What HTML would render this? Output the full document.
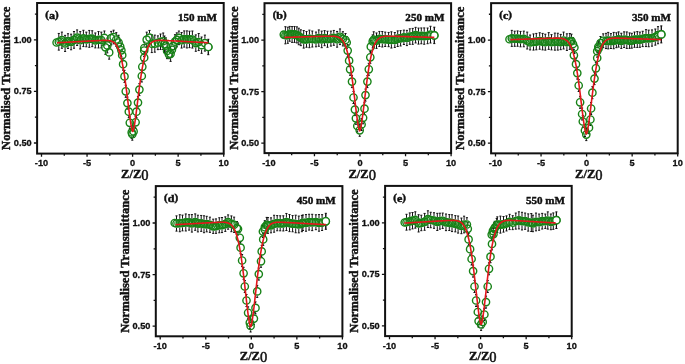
<!DOCTYPE html><html><head><meta charset="utf-8"><style>html,body{margin:0;padding:0;background:#fff;width:685px;height:364px;overflow:hidden}svg{display:block;will-change:transform}</style></head><body><svg width="685" height="364" viewBox="0 0 685 364">
<rect width="685" height="364" fill="#fff"/>
<g><path d="M58.8 33.45V37.44M58.8 46.14V50.12M57.75 33.45h2.1M57.75 50.12h2.1M61.9 32.12V35.84M61.9 44.54V48.26M60.85 32.12h2.1M60.85 48.26h2.1M65.1 35.36V39.06M65.1 47.76V51.46M64.05 35.36h2.1M64.05 51.46h2.1M68 33.72V36.75M68 45.45V48.49M66.95 33.72h2.1M66.95 48.49h2.1M71.1 34.18V37.63M71.1 46.33V49.78M70.05 34.18h2.1M70.05 49.78h2.1M74 31.51V35.52M74 44.22V48.24M72.95 31.51h2.1M72.95 48.24h2.1M77.1 29.91V33.34M77.1 42.04V45.46M76.05 29.91h2.1M76.05 45.46h2.1M80.2 31.58V35.92M80.2 44.62V48.96M79.15 31.58h2.1M79.15 48.96h2.1M83.4 30.29V34.08M83.4 42.78V46.58M82.35 30.29h2.1M82.35 46.58h2.1M86.3 32.15V35.13M86.3 43.83V46.81M85.25 32.15h2.1M85.25 46.81h2.1M89.3 30.44V34.53M89.3 43.23V47.32M88.25 30.44h2.1M88.25 47.32h2.1M92.2 30.76V34.36M92.2 43.06V46.67M91.15 30.76h2.1M91.15 46.67h2.1M95.3 32.98V36.09M95.3 44.79V47.9M94.25 32.98h2.1M94.25 47.9h2.1M98.5 31.54V35.39M98.5 44.09V47.94M97.45 31.54h2.1M97.45 47.94h2.1M101.3 32.14V35.65M101.3 44.35V47.87M100.25 32.14h2.1M100.25 47.87h2.1M104.4 30.98V33.62M104.4 42.32V44.96M103.35 30.98h2.1M103.35 44.96h2.1M105.4 40.4V43.02M105.4 51.72V54.34M104.35 40.4h2.1M104.35 54.34h2.1M107.3 38.05V41.11M107.3 49.81V52.86M106.25 38.05h2.1M106.25 52.86h2.1M109.2 45.61V48.03M109.2 56.73V59.16M108.15 45.61h2.1M108.15 59.16h2.1M111.2 31.4V33.78M111.2 42.48V44.86M110.15 31.4h2.1M110.15 44.86h2.1M113.6 30.19V32.67M113.6 41.37V43.84M112.55 30.19h2.1M112.55 43.84h2.1M116.3 32.64V35.13M116.3 43.83V46.33M115.25 32.64h2.1M115.25 46.33h2.1M118.6 35.26V38.18M118.6 46.88V49.79M117.55 35.26h2.1M117.55 49.79h2.1M120.2 40.1V42.25M120.2 50.95V53.1M119.15 40.1h2.1M119.15 53.1h2.1M121.4 43.8V45.95M121.4 54.65V56.8M120.35 43.8h2.1M120.35 56.8h2.1M122.2 49.2V50.85M122.2 59.55V61.2M121.15 49.2h2.1M121.15 61.2h2.1M123.1 58.2V59.85M123.1 68.55V70.2M122.05 58.2h2.1M122.05 70.2h2.1M124.5 70.4V72.05M124.5 80.75V82.4M123.45 70.4h2.1M123.45 82.4h2.1M125.75 85.3V86.95M125.75 95.65V97.3M124.7 85.3h2.1M124.7 97.3h2.1M127.4 97.1V98.75M127.4 107.45V109.1M126.35 97.1h2.1M126.35 109.1h2.1M128.8 105.7V107.35M128.8 116.05V117.7M127.75 105.7h2.1M127.75 117.7h2.1M129.8 116.8V118.45M129.8 127.15V128.8M128.75 116.8h2.1M128.75 128.8h2.1M131.7 126.4V128.05M131.7 136.75V138.4M130.65 126.4h2.1M130.65 138.4h2.1M132.3 128.2V129.85M132.3 138.55V140.2M131.25 128.2h2.1M131.25 140.2h2.1M133.6 125.4V127.05M133.6 135.75V137.4M132.55 125.4h2.1M132.55 137.4h2.1M135.6 116.3V117.95M135.6 126.65V128.3M134.55 116.3h2.1M134.55 128.3h2.1M136.5 105.7V107.35M136.5 116.05V117.7M135.45 105.7h2.1M135.45 117.7h2.1M138 96.6V98.25M138 106.95V108.6M136.95 96.6h2.1M136.95 108.6h2.1M139.4 83.6V85.25M139.4 93.95V95.6M138.35 83.6h2.1M138.35 95.6h2.1M141.8 70V71.65M141.8 80.35V82M140.75 70h2.1M140.75 82h2.1M142.3 60.8V62.45M142.3 71.15V72.8M141.25 60.8h2.1M141.25 72.8h2.1M144.2 51.7V53.35M144.2 62.05V63.7M143.15 51.7h2.1M143.15 63.7h2.1M144.2 44.5V46.15M144.2 54.85V56.5M143.15 44.5h2.1M143.15 56.5h2.1M144.3 42V43.65M144.3 52.35V54M143.25 42h2.1M143.25 54h2.1M146.7 32.16V35.29M146.7 43.99V47.13M145.65 32.16h2.1M145.65 47.13h2.1M149.5 30.44V33.37M149.5 42.07V45.01M148.45 30.44h2.1M148.45 45.01h2.1M151.8 34.75V39.31M151.8 48.01V52.57M150.75 34.75h2.1M150.75 52.57h2.1M154.8 35.11V39.29M154.8 47.99V52.17M153.75 35.11h2.1M153.75 52.17h2.1M157.9 35.85V38.4M157.9 47.1V49.65M156.85 35.85h2.1M156.85 49.65h2.1M160.5 34.01V37.42M160.5 46.12V49.52M159.45 34.01h2.1M159.45 49.52h2.1M163.2 33.01V36.89M163.2 45.59V49.48M162.15 33.01h2.1M162.15 49.48h2.1M164.5 36V39.87M164.5 48.57V52.44M163.45 36h2.1M163.45 52.44h2.1M165.8 37.83V41.25M165.8 49.95V53.37M164.75 37.83h2.1M164.75 53.37h2.1M167.1 43.28V46.62M167.1 55.32V58.65M166.05 43.28h2.1M166.05 58.65h2.1M168.9 49.9V49.95M168.9 58.65V58.7M167.85 49.9h2.1M167.85 58.7h2.1M170.6 46.3V49.49M170.6 58.19V61.37M169.55 46.3h2.1M169.55 61.37h2.1M171.9 42.76V45.38M171.9 54.08V56.69M170.85 42.76h2.1M170.85 56.69h2.1M173.2 39.56V41.76M173.2 50.46V52.67M172.15 39.56h2.1M172.15 52.67h2.1M175 34.7V37.31M175 46.01V48.61M173.95 34.7h2.1M173.95 48.61h2.1M176.8 32.85V35.49M176.8 44.19V46.82M175.75 32.85h2.1M175.75 46.82h2.1M178.9 31.03V33.5M178.9 42.2V44.66M177.85 31.03h2.1M177.85 44.66h2.1M181.6 32.52V35.93M181.6 44.63V48.04M180.55 32.52h2.1M180.55 48.04h2.1M184.2 30.9V34.65M184.2 43.35V47.1M183.15 30.9h2.1M183.15 47.1h2.1M186.9 30.88V35.06M186.9 43.76V47.94M185.85 30.88h2.1M185.85 47.94h2.1M189.5 31.21V35.08M189.5 43.78V47.66M188.45 31.21h2.1M188.45 47.66h2.1M192.4 31V35.18M192.4 43.88V48.06M191.35 31h2.1M191.35 48.06h2.1M195.8 34.89V38.75M195.8 47.45V51.31M194.75 34.89h2.1M194.75 51.31h2.1M198.7 33.51V37.69M198.7 46.39V50.57M197.65 33.51h2.1M197.65 50.57h2.1M201.6 37.02V40.82M201.6 49.52V53.32M200.55 37.02h2.1M200.55 53.32h2.1M204.9 35.13V38.75M204.9 47.45V51.07M203.85 35.13h2.1M203.85 51.07h2.1M208.3 39.3V42.65M208.3 51.35V54.7M207.25 39.3h2.1M207.25 54.7h2.1" stroke="#111" stroke-width="1.0" fill="none"/><g fill="none" stroke="#178217" stroke-width="1.4"><circle cx="56.6" cy="42.5" r="3.65"/><circle cx="58.8" cy="41.79" r="3.65"/><circle cx="61.9" cy="40.19" r="3.65"/><circle cx="65.1" cy="43.41" r="3.65"/><circle cx="68" cy="41.1" r="3.65"/><circle cx="71.1" cy="41.98" r="3.65"/><circle cx="74" cy="39.87" r="3.65"/><circle cx="77.1" cy="37.69" r="3.65"/><circle cx="80.2" cy="40.27" r="3.65"/><circle cx="83.4" cy="38.43" r="3.65"/><circle cx="86.3" cy="39.48" r="3.65"/><circle cx="89.3" cy="38.88" r="3.65"/><circle cx="92.2" cy="38.71" r="3.65"/><circle cx="95.3" cy="40.44" r="3.65"/><circle cx="98.5" cy="39.74" r="3.65"/><circle cx="101.3" cy="40" r="3.65"/><circle cx="104.4" cy="37.97" r="3.65"/><circle cx="105.4" cy="47.37" r="3.65"/><circle cx="107.3" cy="45.46" r="3.65"/><circle cx="109.2" cy="52.38" r="3.65"/><circle cx="111.2" cy="38.13" r="3.65"/><circle cx="113.6" cy="37.02" r="3.65"/><circle cx="116.3" cy="39.48" r="3.65"/><circle cx="118.6" cy="42.53" r="3.65"/><circle cx="120.2" cy="46.6" r="3.65"/><circle cx="121.4" cy="50.3" r="3.65"/><circle cx="122.2" cy="55.2" r="3.65"/><circle cx="123.1" cy="64.2" r="3.65"/><circle cx="124.5" cy="76.4" r="3.65"/><circle cx="125.75" cy="91.3" r="3.65"/><circle cx="127.4" cy="103.1" r="3.65"/><circle cx="128.8" cy="111.7" r="3.65"/><circle cx="129.8" cy="122.8" r="3.65"/><circle cx="131.7" cy="132.4" r="3.65"/><circle cx="132.3" cy="134.2" r="3.65"/><circle cx="133.6" cy="131.4" r="3.65"/><circle cx="135.6" cy="122.3" r="3.65"/><circle cx="136.5" cy="111.7" r="3.65"/><circle cx="138" cy="102.6" r="3.65"/><circle cx="139.4" cy="89.6" r="3.65"/><circle cx="141.8" cy="76" r="3.65"/><circle cx="142.3" cy="66.8" r="3.65"/><circle cx="144.2" cy="57.7" r="3.65"/><circle cx="144.2" cy="50.5" r="3.65"/><circle cx="144.3" cy="48" r="3.65"/><circle cx="146.7" cy="39.64" r="3.65"/><circle cx="149.5" cy="37.72" r="3.65"/><circle cx="151.8" cy="43.66" r="3.65"/><circle cx="154.8" cy="43.64" r="3.65"/><circle cx="157.9" cy="42.75" r="3.65"/><circle cx="160.5" cy="41.77" r="3.65"/><circle cx="163.2" cy="41.24" r="3.65"/><circle cx="164.5" cy="44.22" r="3.65"/><circle cx="165.8" cy="45.6" r="3.65"/><circle cx="167.1" cy="50.97" r="3.65"/><circle cx="168.9" cy="54.3" r="3.65"/><circle cx="170.6" cy="53.84" r="3.65"/><circle cx="171.9" cy="49.73" r="3.65"/><circle cx="173.2" cy="46.11" r="3.65"/><circle cx="175" cy="41.66" r="3.65"/><circle cx="176.8" cy="39.84" r="3.65"/><circle cx="178.9" cy="37.85" r="3.65"/><circle cx="181.6" cy="40.28" r="3.65"/><circle cx="184.2" cy="39" r="3.65"/><circle cx="186.9" cy="39.41" r="3.65"/><circle cx="189.5" cy="39.43" r="3.65"/><circle cx="192.4" cy="39.53" r="3.65"/><circle cx="195.8" cy="43.1" r="3.65"/><circle cx="198.7" cy="42.04" r="3.65"/><circle cx="201.6" cy="45.17" r="3.65"/><circle cx="204.9" cy="43.1" r="3.65"/><circle cx="208.3" cy="47" r="3.65"/><circle cx="60.35" cy="40.99" r="3.65" stroke-width="0.9"/><circle cx="63.5" cy="41.8" r="3.65" stroke-width="0.9"/><circle cx="66.55" cy="42.26" r="3.65" stroke-width="0.9"/><circle cx="69.55" cy="41.54" r="3.65" stroke-width="0.9"/><circle cx="72.55" cy="40.93" r="3.65" stroke-width="0.9"/><circle cx="75.55" cy="38.78" r="3.65" stroke-width="0.9"/><circle cx="78.65" cy="38.98" r="3.65" stroke-width="0.9"/><circle cx="81.8" cy="39.35" r="3.65" stroke-width="0.9"/><circle cx="84.85" cy="38.96" r="3.65" stroke-width="0.9"/><circle cx="87.8" cy="39.18" r="3.65" stroke-width="0.9"/><circle cx="90.75" cy="38.8" r="3.65" stroke-width="0.9"/><circle cx="93.75" cy="39.58" r="3.65" stroke-width="0.9"/><circle cx="96.9" cy="40.09" r="3.65" stroke-width="0.9"/><circle cx="99.9" cy="39.87" r="3.65" stroke-width="0.9"/><circle cx="182.9" cy="39.64" r="3.65" stroke-width="0.9"/><circle cx="185.55" cy="39.2" r="3.65" stroke-width="0.9"/><circle cx="188.2" cy="39.42" r="3.65" stroke-width="0.9"/><circle cx="190.95" cy="39.48" r="3.65" stroke-width="0.9"/><circle cx="194.1" cy="41.31" r="3.65" stroke-width="0.9"/><circle cx="197.25" cy="42.57" r="3.65" stroke-width="0.9"/></g><path d="M208.3 39.3V54.7" stroke="#111" stroke-width="1.0"/><circle cx="208.3" cy="47" r="3.65" fill="#fff" stroke="#178217" stroke-width="1.4"/><path d="M57 42.75 L57.38 42.73 L57.76 42.71 L58.14 42.69 L58.52 42.67 L58.9 42.65 L59.28 42.63 L59.65 42.61 L60.03 42.59 L60.41 42.57 L60.79 42.55 L61.17 42.54 L61.55 42.52 L61.93 42.5 L62.31 42.48 L62.69 42.46 L63.07 42.44 L63.45 42.42 L63.83 42.4 L64.2 42.38 L64.58 42.36 L64.96 42.34 L65.34 42.32 L65.72 42.3 L66.1 42.28 L66.48 42.26 L66.86 42.24 L67.24 42.22 L67.62 42.2 L68 42.18 L68.38 42.16 L68.76 42.14 L69.13 42.12 L69.51 42.1 L69.89 42.08 L70.27 42.06 L70.65 42.04 L71.03 42.02 L71.41 42 L71.79 41.98 L72.17 41.96 L72.55 41.94 L72.93 41.92 L73.31 41.9 L73.68 41.88 L74.06 41.86 L74.44 41.84 L74.82 41.82 L75.2 41.8 L75.58 41.78 L75.96 41.76 L76.34 41.74 L76.72 41.72 L77.1 41.7 L77.48 41.68 L77.86 41.66 L78.24 41.64 L78.61 41.62 L78.99 41.6 L79.37 41.58 L79.75 41.56 L80.13 41.54 L80.51 41.52 L80.89 41.5 L81.27 41.48 L81.65 41.46 L82.03 41.44 L82.41 41.42 L82.79 41.4 L83.16 41.38 L83.54 41.36 L83.92 41.34 L84.3 41.32 L84.68 41.3 L85.06 41.28 L85.44 41.26 L85.82 41.24 L86.2 41.22 L86.58 41.2 L86.96 41.18 L87.34 41.16 L87.72 41.14 L88.09 41.12 L88.47 41.1 L88.85 41.08 L89.23 41.06 L89.61 41.04 L89.99 41.02 L90.37 41 L90.75 40.98 L91.13 40.96 L91.51 40.94 L91.89 40.92 L92.27 40.9 L92.64 40.88 L93.02 40.86 L93.4 40.84 L93.78 40.82 L94.16 40.8 L94.54 40.78 L94.92 40.76 L95.3 40.74 L95.68 40.72 L96.06 40.7 L96.44 40.68 L96.82 40.66 L97.19 40.65 L97.57 40.63 L97.95 40.61 L98.33 40.59 L98.71 40.57 L99.09 40.55 L99.47 40.53 L99.85 40.52 L100.23 40.5 L100.61 40.48 L100.99 40.47 L101.37 40.45 L101.75 40.44 L102.12 40.42 L102.5 40.41 L102.88 40.4 L103.26 40.39 L103.64 40.38 L104.02 40.37 L104.4 40.36 L104.78 40.36 L105.16 40.36 L105.54 40.36 L105.92 40.36 L106.3 40.37 L106.67 40.38 L107.05 40.4 L107.43 40.42 L107.81 40.45 L108.19 40.48 L108.57 40.52 L108.95 40.57 L109.33 40.63 L109.71 40.7 L110.09 40.77 L110.47 40.86 L110.85 40.97 L111.23 41.09 L111.6 41.22 L111.98 41.38 L112.36 41.55 L112.74 41.75 L113.12 41.97 L113.5 42.22 L113.88 42.49 L114.26 42.8 L114.64 43.15 L115.02 43.53 L115.4 43.95 L115.78 44.42 L116.15 44.93 L116.53 45.5 L116.91 46.12 L117.29 46.8 L117.67 47.54 L118.05 48.35 L118.43 49.24 L118.81 50.19 L119.19 51.23 L119.57 52.35 L119.95 53.55 L120.33 54.85 L120.71 56.24 L121.08 57.74 L121.46 59.33 L121.84 61.03 L122.22 62.83 L122.6 64.74 L122.98 66.76 L123.36 68.89 L123.74 71.13 L124.12 73.48 L124.5 75.93 L124.88 78.49 L125.26 81.14 L125.63 83.88 L126.01 86.71 L126.39 89.61 L126.77 92.57 L127.15 95.59 L127.53 98.64 L127.91 101.72 L128.29 104.8 L128.67 107.86 L129.05 110.88 L129.43 113.84 L129.81 116.71 L130.19 119.45 L130.56 122.04 L130.94 124.43 L131.32 126.59 L131.7 128.46 L132.08 129.97 L132.46 131.04 L132.75 131.4 L132.84 131.35 L133.22 130.6 L133.6 129.31 L133.98 127.62 L134.36 125.6 L134.74 123.33 L135.11 120.84 L135.49 118.17 L135.87 115.37 L136.25 112.45 L136.63 109.46 L137.01 106.42 L137.39 103.34 L137.77 100.27 L138.15 97.2 L138.53 94.16 L138.91 91.17 L139.29 88.23 L139.67 85.36 L140.04 82.57 L140.42 79.87 L140.8 77.27 L141.18 74.76 L141.56 72.36 L141.94 70.06 L142.32 67.87 L142.7 65.79 L143.08 63.82 L143.46 61.96 L143.84 60.21 L144.22 58.56 L144.59 57.02 L144.97 55.57 L145.35 54.23 L145.73 52.97 L146.11 51.81 L146.49 50.73 L146.87 49.73 L147.25 48.81 L147.63 47.96 L148.01 47.19 L148.39 46.47 L148.77 45.82 L149.15 45.23 L149.52 44.69 L149.9 44.19 L150.28 43.75 L150.66 43.34 L151.04 42.98 L151.42 42.65 L151.8 42.36 L152.18 42.1 L152.56 41.86 L152.94 41.65 L153.32 41.47 L153.7 41.3 L154.07 41.16 L154.45 41.03 L154.83 40.92 L155.21 40.82 L155.59 40.74 L155.97 40.66 L156.35 40.6 L156.73 40.55 L157.11 40.5 L157.49 40.47 L157.87 40.44 L158.25 40.41 L158.63 40.39 L159 40.38 L159.38 40.37 L159.76 40.36 L160.14 40.36 L160.52 40.36 L160.9 40.36 L161.28 40.37 L161.66 40.37 L162.04 40.38 L162.42 40.39 L162.8 40.4 L163.18 40.42 L163.55 40.43 L163.93 40.44 L164.31 40.46 L164.69 40.47 L165.07 40.49 L165.45 40.51 L165.83 40.52 L166.21 40.54 L166.59 40.56 L166.97 40.58 L167.35 40.6 L167.73 40.62 L168.11 40.64 L168.48 40.65 L168.86 40.67 L169.24 40.69 L169.62 40.71 L170 40.73 L170.38 40.75 L170.76 40.77 L171.14 40.79 L171.52 40.81 L171.9 40.83 L172.28 40.85 L172.66 40.87 L173.03 40.89 L173.41 40.91 L173.79 40.93 L174.17 40.95 L174.55 40.97 L174.93 40.99 L175.31 41.01 L175.69 41.03 L176.07 41.05 L176.45 41.07 L176.83 41.09 L177.21 41.11 L177.58 41.13 L177.96 41.15 L178.34 41.17 L178.72 41.19 L179.1 41.21 L179.48 41.23 L179.86 41.25 L180.24 41.27 L180.62 41.29 L181 41.31 L181.38 41.33 L181.76 41.35 L182.14 41.37 L182.51 41.39 L182.89 41.41 L183.27 41.43 L183.65 41.45 L184.03 41.47 L184.41 41.49 L184.79 41.51 L185.17 41.53 L185.55 41.55 L185.93 41.57 L186.31 41.59 L186.69 41.61 L187.06 41.63 L187.44 41.65 L187.82 41.67 L188.2 41.69 L188.58 41.71 L188.96 41.73 L189.34 41.75 L189.72 41.77 L190.1 41.79 L190.48 41.81 L190.86 41.83 L191.24 41.85 L191.62 41.87 L191.99 41.89 L192.37 41.91 L192.75 41.93 L193.13 41.95 L193.51 41.97 L193.89 41.99 L194.27 42.01 L194.65 42.03 L195.03 42.05 L195.41 42.07 L195.79 42.09 L196.17 42.11 L196.54 42.13 L196.92 42.15 L197.3 42.17 L197.68 42.19 L198.06 42.21 L198.44 42.23 L198.82 42.25 L199.2 42.27 L199.58 42.29 L199.96 42.31 L200.34 42.33 L200.72 42.35 L201.1 42.36 L201.47 42.38 L201.85 42.4 L202.23 42.42 L202.61 42.44 L202.99 42.46 L203.37 42.48 L203.75 42.5 L204.13 42.52 L204.51 42.54 L204.89 42.56 L205.27 42.58 L205.65 42.6 L206.02 42.62 L206.4 42.64 L206.78 42.66 L207.16 42.68 L207.54 42.7 L207.92 42.72 L208.3 42.74" stroke="#e3161b" stroke-width="1.6" fill="none" stroke-linejoin="round"/><rect x="37.1" y="3" width="186.6" height="150.6" fill="none" stroke="#111" stroke-width="2"/><path d="M41.5 153.6v3.2M87.05 153.6v3.2M132.6 153.6v3.2M178.15 153.6v3.2M223.7 153.6v3.2M64.28 153.6v2.2M109.82 153.6v2.2M155.38 153.6v2.2M200.92 153.6v2.2M37.1 143h-3.2M37.1 91.45h-3.2M37.1 39.9h-3.2M37.1 117.22h-2.2M37.1 65.67h-2.2M37.1 14.12h-2.2" stroke="#111" stroke-width="1.3" fill="none"/><g font-family="Liberation Sans" font-weight="bold" font-size="9.2" fill="#111" stroke="#111" stroke-width="0.3"><text x="41.5" y="166" text-anchor="middle">-10</text><text x="87.05" y="166" text-anchor="middle">-5</text><text x="132.6" y="166" text-anchor="middle">0</text><text x="178.15" y="166" text-anchor="middle">5</text><text x="223.7" y="166" text-anchor="middle">10</text><text x="31.7" y="146" text-anchor="end">0.50</text><text x="31.7" y="94.45" text-anchor="end">0.75</text><text x="31.7" y="42.9" text-anchor="end">1.00</text></g><text transform="translate(10.4,78.3) rotate(-90)" text-anchor="middle" font-family="Liberation Serif" font-weight="bold" font-size="12.6" fill="#111" stroke="#111" stroke-width="0.45">Normalised Transmittance</text><text x="121.1" y="177.7" font-family="Liberation Serif" font-weight="bold" font-size="12.5" fill="#111" stroke="#111" stroke-width="0.45">Z/Z<tspan font-size="14.5" dy="2.4" font-weight="normal" stroke-width="0.5">0</tspan></text><text transform="translate(45.3,18.7) scale(1.14,1)" font-family="Liberation Serif" font-weight="bold" font-size="10.6" fill="#111" stroke="#111" stroke-width="0.45"><tspan font-size="9.6" dy="-0.6">(</tspan><tspan dy="0.6">a</tspan><tspan font-size="9.6" dy="-0.6">)</tspan></text><text x="217.1" y="20.8" text-anchor="end" font-family="Liberation Serif" font-weight="bold" font-size="11.1" fill="#111" stroke="#111" stroke-width="0.45">150 mM</text></g>
<g><path d="M285.4 26.71V30.92M285.4 39.62V43.83M284.35 26.71h2.1M284.35 43.83h2.1M287.8 27.23V30.91M287.8 39.61V43.3M286.75 27.23h2.1M286.75 43.3h2.1M289.7 26.41V29.47M289.7 38.17V41.23M288.65 26.41h2.1M288.65 41.23h2.1M292.1 26.59V30.12M292.1 38.82V42.36M291.05 26.59h2.1M291.05 42.36h2.1M294.5 26.47V30.09M294.5 38.79V42.41M293.45 26.47h2.1M293.45 42.41h2.1M296.9 26.85V30.55M296.9 39.25V42.95M295.85 26.85h2.1M295.85 42.95h2.1M298.8 28.21V32.12M298.8 40.82V44.72M297.75 28.21h2.1M297.75 44.72h2.1M300.8 29.8V33.37M300.8 42.07V45.63M299.75 29.8h2.1M299.75 45.63h2.1M303.7 30.55V34.97M303.7 43.67V48.09M302.65 30.55h2.1M302.65 48.09h2.1M306.5 31.54V35.05M306.5 43.75V47.26M305.45 31.54h2.1M305.45 47.26h2.1M309.4 30.14V34.57M309.4 43.27V47.7M308.35 30.14h2.1M308.35 47.7h2.1M312.3 31.04V34.68M312.3 43.38V47.02M311.25 31.04h2.1M311.25 47.02h2.1M316 32.06V35.08M316 43.78V46.8M314.95 32.06h2.1M314.95 46.8h2.1M318.8 29.93V33.76M318.8 42.46V46.28M317.75 29.93h2.1M317.75 46.28h2.1M321.7 31.14V35.07M321.7 43.77V47.7M320.65 31.14h2.1M320.65 47.7h2.1M324.6 30.63V33.8M324.6 42.5V45.67M323.55 30.63h2.1M323.55 45.67h2.1M327.5 31.22V34.89M327.5 43.59V47.25M326.45 31.22h2.1M326.45 47.25h2.1M330.9 31.11V34.24M330.9 42.94V46.07M329.85 31.11h2.1M329.85 46.07h2.1M333.8 30.45V33.53M333.8 42.23V45.3M332.75 30.45h2.1M332.75 45.3h2.1M337.1 31.43V34.94M337.1 43.64V47.16M336.05 31.43h2.1M336.05 47.16h2.1M340 28.95V32.42M340 41.12V44.6M338.95 28.95h2.1M338.95 44.6h2.1M342.9 31.69V34.48M342.9 43.18V45.97M341.85 31.69h2.1M341.85 45.97h2.1M345.5 33.5V35.65M345.5 44.35V46.5M344.45 33.5h2.1M344.45 46.5h2.1M346.7 36.5V38.15M346.7 46.85V48.5M345.65 36.5h2.1M345.65 48.5h2.1M347.7 44.6V46.25M347.7 54.95V56.6M346.65 44.6h2.1M346.65 56.6h2.1M349.1 54.7V56.35M349.1 65.05V66.7M348.05 54.7h2.1M348.05 66.7h2.1M350.1 63.3V64.95M350.1 73.65V75.3M349.05 63.3h2.1M349.05 75.3h2.1M352 75.6V77.25M352 85.95V87.6M350.95 75.6h2.1M350.95 87.6h2.1M353.5 91.5V93.15M353.5 101.85V103.5M352.45 91.5h2.1M352.45 103.5h2.1M354.9 103.6V105.25M354.9 113.95V115.6M353.85 103.6h2.1M353.85 115.6h2.1M355.9 112.3V113.95M355.9 122.65V124.3M354.85 112.3h2.1M354.85 124.3h2.1M357.3 120V121.65M357.3 130.35V132M356.25 120h2.1M356.25 132h2.1M359.7 124.3V125.95M359.7 134.65V136.3M358.65 124.3h2.1M358.65 136.3h2.1M361.6 118.5V120.15M361.6 128.85V130.5M360.55 118.5h2.1M360.55 130.5h2.1M363.1 111.8V113.45M363.1 122.15V123.8M362.05 111.8h2.1M362.05 123.8h2.1M364.5 102.7V104.35M364.5 113.05V114.7M363.45 102.7h2.1M363.45 114.7h2.1M365.5 89.1V90.75M365.5 99.45V101.1M364.45 89.1h2.1M364.45 101.1h2.1M367.4 75.6V77.25M367.4 85.95V87.6M366.35 75.6h2.1M366.35 87.6h2.1M368.8 63.3V64.95M368.8 73.65V75.3M367.75 63.3h2.1M367.75 75.3h2.1M370.3 51.3V52.95M370.3 61.65V63.3M369.25 51.3h2.1M369.25 63.3h2.1M370.8 40.7V42.35M370.8 51.05V52.7M369.75 40.7h2.1M369.75 52.7h2.1M372.7 34.9V37.05M372.7 45.75V47.9M371.65 34.9h2.1M371.65 47.9h2.1M373.7 31.77V35.37M373.7 44.07V47.67M372.65 31.77h2.1M372.65 47.67h2.1M376.5 32.98V36.33M376.5 45.03V48.38M375.45 32.98h2.1M375.45 48.38h2.1M379.4 31.43V34.62M379.4 43.32V46.51M378.35 31.43h2.1M378.35 46.51h2.1M382.3 31.49V34.89M382.3 43.59V46.99M381.25 31.49h2.1M381.25 46.99h2.1M385.2 32.11V34.94M385.2 43.64V46.47M384.15 32.11h2.1M384.15 46.47h2.1M388.6 32.44V35.22M388.6 43.92V46.69M387.55 32.44h2.1M387.55 46.69h2.1M391.4 31.79V35.57M391.4 44.27V48.04M390.35 31.79h2.1M390.35 48.04h2.1M394.8 32.55V35.65M394.8 44.35V47.45M393.75 32.55h2.1M393.75 47.45h2.1M397.7 30.88V34.32M397.7 43.02V46.47M396.65 30.88h2.1M396.65 46.47h2.1M400.6 30.65V33.97M400.6 42.67V45.98M399.55 30.65h2.1M399.55 45.98h2.1M403.9 30.13V32.97M403.9 41.67V44.5M402.85 30.13h2.1M402.85 44.5h2.1M406.9 30.36V33.63M406.9 42.33V45.6M405.85 30.36h2.1M405.85 45.6h2.1M409.8 28.8V32.18M409.8 40.88V44.27M408.75 28.8h2.1M408.75 44.27h2.1M412.7 28.41V32.03M412.7 40.73V44.34M411.65 28.41h2.1M411.65 44.34h2.1M415.6 27.37V30.8M415.6 39.5V42.94M414.55 27.37h2.1M414.55 42.94h2.1M418.5 28.08V31.73M418.5 40.43V44.09M417.45 28.08h2.1M417.45 44.09h2.1M421.3 27.96V31.52M421.3 40.22V43.78M420.25 27.96h2.1M420.25 43.78h2.1M424.2 27.93V31.74M424.2 40.44V44.26M423.15 27.93h2.1M423.15 44.26h2.1M427.6 28.02V31.51M427.6 40.21V43.7M426.55 28.02h2.1M426.55 43.7h2.1M430.5 26.27V30.29M430.5 38.99V43.01M429.45 26.27h2.1M429.45 43.01h2.1M434.3 27.2V31.05M434.3 39.75V43.6M433.25 27.2h2.1M433.25 43.6h2.1" stroke="#111" stroke-width="1.0" fill="none"/><g fill="none" stroke="#178217" stroke-width="1.4"><circle cx="283.8" cy="34.6" r="3.65"/><circle cx="285.4" cy="35.27" r="3.65"/><circle cx="287.8" cy="35.26" r="3.65"/><circle cx="289.7" cy="33.82" r="3.65"/><circle cx="292.1" cy="34.47" r="3.65"/><circle cx="294.5" cy="34.44" r="3.65"/><circle cx="296.9" cy="34.9" r="3.65"/><circle cx="298.8" cy="36.47" r="3.65"/><circle cx="300.8" cy="37.72" r="3.65"/><circle cx="303.7" cy="39.32" r="3.65"/><circle cx="306.5" cy="39.4" r="3.65"/><circle cx="309.4" cy="38.92" r="3.65"/><circle cx="312.3" cy="39.03" r="3.65"/><circle cx="316" cy="39.43" r="3.65"/><circle cx="318.8" cy="38.11" r="3.65"/><circle cx="321.7" cy="39.42" r="3.65"/><circle cx="324.6" cy="38.15" r="3.65"/><circle cx="327.5" cy="39.24" r="3.65"/><circle cx="330.9" cy="38.59" r="3.65"/><circle cx="333.8" cy="37.88" r="3.65"/><circle cx="337.1" cy="39.29" r="3.65"/><circle cx="340" cy="36.77" r="3.65"/><circle cx="342.9" cy="38.83" r="3.65"/><circle cx="345.5" cy="40" r="3.65"/><circle cx="346.7" cy="42.5" r="3.65"/><circle cx="347.7" cy="50.6" r="3.65"/><circle cx="349.1" cy="60.7" r="3.65"/><circle cx="350.1" cy="69.3" r="3.65"/><circle cx="352" cy="81.6" r="3.65"/><circle cx="353.5" cy="97.5" r="3.65"/><circle cx="354.9" cy="109.6" r="3.65"/><circle cx="355.9" cy="118.3" r="3.65"/><circle cx="357.3" cy="126" r="3.65"/><circle cx="359.7" cy="130.3" r="3.65"/><circle cx="361.6" cy="124.5" r="3.65"/><circle cx="363.1" cy="117.8" r="3.65"/><circle cx="364.5" cy="108.7" r="3.65"/><circle cx="365.5" cy="95.1" r="3.65"/><circle cx="367.4" cy="81.6" r="3.65"/><circle cx="368.8" cy="69.3" r="3.65"/><circle cx="370.3" cy="57.3" r="3.65"/><circle cx="370.8" cy="46.7" r="3.65"/><circle cx="372.7" cy="41.4" r="3.65"/><circle cx="373.7" cy="39.72" r="3.65"/><circle cx="376.5" cy="40.68" r="3.65"/><circle cx="379.4" cy="38.97" r="3.65"/><circle cx="382.3" cy="39.24" r="3.65"/><circle cx="385.2" cy="39.29" r="3.65"/><circle cx="388.6" cy="39.57" r="3.65"/><circle cx="391.4" cy="39.92" r="3.65"/><circle cx="394.8" cy="40" r="3.65"/><circle cx="397.7" cy="38.67" r="3.65"/><circle cx="400.6" cy="38.32" r="3.65"/><circle cx="403.9" cy="37.32" r="3.65"/><circle cx="406.9" cy="37.98" r="3.65"/><circle cx="409.8" cy="36.53" r="3.65"/><circle cx="412.7" cy="36.38" r="3.65"/><circle cx="415.6" cy="35.15" r="3.65"/><circle cx="418.5" cy="36.08" r="3.65"/><circle cx="421.3" cy="35.87" r="3.65"/><circle cx="424.2" cy="36.09" r="3.65"/><circle cx="427.6" cy="35.86" r="3.65"/><circle cx="430.5" cy="34.64" r="3.65"/><circle cx="434.3" cy="35.4" r="3.65"/><circle cx="286.6" cy="35.27" r="3.65" stroke-width="0.9"/><circle cx="288.75" cy="34.54" r="3.65" stroke-width="0.9"/><circle cx="290.9" cy="34.15" r="3.65" stroke-width="0.9"/><circle cx="293.3" cy="34.46" r="3.65" stroke-width="0.9"/><circle cx="295.7" cy="34.67" r="3.65" stroke-width="0.9"/><circle cx="297.85" cy="35.68" r="3.65" stroke-width="0.9"/><circle cx="299.8" cy="37.09" r="3.65" stroke-width="0.9"/><circle cx="302.25" cy="38.52" r="3.65" stroke-width="0.9"/><circle cx="305.1" cy="39.36" r="3.65" stroke-width="0.9"/><circle cx="307.95" cy="39.16" r="3.65" stroke-width="0.9"/><circle cx="310.85" cy="38.97" r="3.65" stroke-width="0.9"/><circle cx="314.15" cy="39.23" r="3.65" stroke-width="0.9"/><circle cx="317.4" cy="38.77" r="3.65" stroke-width="0.9"/><circle cx="320.25" cy="38.77" r="3.65" stroke-width="0.9"/><circle cx="323.15" cy="38.79" r="3.65" stroke-width="0.9"/><circle cx="326.05" cy="38.69" r="3.65" stroke-width="0.9"/><circle cx="329.2" cy="38.91" r="3.65" stroke-width="0.9"/><circle cx="332.35" cy="38.23" r="3.65" stroke-width="0.9"/><circle cx="335.45" cy="38.59" r="3.65" stroke-width="0.9"/><circle cx="338.55" cy="38.03" r="3.65" stroke-width="0.9"/><circle cx="341.45" cy="37.8" r="3.65" stroke-width="0.9"/><circle cx="375.1" cy="40.2" r="3.65" stroke-width="0.9"/><circle cx="377.95" cy="39.82" r="3.65" stroke-width="0.9"/><circle cx="380.85" cy="39.1" r="3.65" stroke-width="0.9"/><circle cx="383.75" cy="39.26" r="3.65" stroke-width="0.9"/><circle cx="386.9" cy="39.43" r="3.65" stroke-width="0.9"/><circle cx="390" cy="39.74" r="3.65" stroke-width="0.9"/><circle cx="393.1" cy="39.96" r="3.65" stroke-width="0.9"/><circle cx="396.25" cy="39.34" r="3.65" stroke-width="0.9"/><circle cx="399.15" cy="38.5" r="3.65" stroke-width="0.9"/><circle cx="402.25" cy="37.82" r="3.65" stroke-width="0.9"/><circle cx="405.4" cy="37.65" r="3.65" stroke-width="0.9"/><circle cx="408.35" cy="37.26" r="3.65" stroke-width="0.9"/><circle cx="411.25" cy="36.46" r="3.65" stroke-width="0.9"/><circle cx="414.15" cy="35.76" r="3.65" stroke-width="0.9"/><circle cx="417.05" cy="35.62" r="3.65" stroke-width="0.9"/><circle cx="419.9" cy="35.98" r="3.65" stroke-width="0.9"/><circle cx="422.75" cy="35.98" r="3.65" stroke-width="0.9"/><circle cx="425.9" cy="35.98" r="3.65" stroke-width="0.9"/><circle cx="429.05" cy="35.25" r="3.65" stroke-width="0.9"/></g><path d="M434.3 27.2V43.6" stroke="#111" stroke-width="1.0"/><circle cx="434.3" cy="35.4" r="3.65" fill="#fff" stroke="#178217" stroke-width="1.4"/><path d="M284.5 37.41 L284.88 37.4 L285.25 37.38 L285.63 37.37 L286 37.36 L286.38 37.35 L286.75 37.34 L287.13 37.33 L287.5 37.32 L287.88 37.31 L288.25 37.3 L288.63 37.29 L289.01 37.28 L289.38 37.27 L289.76 37.26 L290.13 37.25 L290.51 37.24 L290.88 37.23 L291.26 37.22 L291.63 37.21 L292.01 37.2 L292.38 37.18 L292.76 37.17 L293.14 37.16 L293.51 37.15 L293.89 37.14 L294.26 37.13 L294.64 37.12 L295.01 37.11 L295.39 37.1 L295.76 37.09 L296.14 37.08 L296.51 37.07 L296.89 37.06 L297.26 37.05 L297.64 37.04 L298.02 37.03 L298.39 37.02 L298.77 37.01 L299.14 37 L299.52 36.99 L299.89 36.97 L300.27 36.96 L300.64 36.95 L301.02 36.94 L301.39 36.93 L301.77 36.92 L302.15 36.91 L302.52 36.9 L302.9 36.89 L303.27 36.88 L303.65 36.87 L304.02 36.86 L304.4 36.85 L304.77 36.84 L305.15 36.83 L305.52 36.82 L305.9 36.81 L306.28 36.8 L306.65 36.79 L307.03 36.77 L307.4 36.76 L307.78 36.75 L308.15 36.74 L308.53 36.73 L308.9 36.72 L309.28 36.71 L309.65 36.7 L310.03 36.69 L310.41 36.68 L310.78 36.67 L311.16 36.66 L311.53 36.65 L311.91 36.64 L312.28 36.63 L312.66 36.62 L313.03 36.61 L313.41 36.6 L313.78 36.59 L314.16 36.58 L314.54 36.56 L314.91 36.55 L315.29 36.54 L315.66 36.53 L316.04 36.52 L316.41 36.51 L316.79 36.5 L317.16 36.49 L317.54 36.48 L317.91 36.47 L318.29 36.46 L318.66 36.45 L319.04 36.44 L319.42 36.43 L319.79 36.42 L320.17 36.41 L320.54 36.4 L320.92 36.39 L321.29 36.38 L321.67 36.37 L322.04 36.36 L322.42 36.35 L322.79 36.34 L323.17 36.33 L323.55 36.32 L323.92 36.31 L324.3 36.3 L324.67 36.29 L325.05 36.28 L325.42 36.27 L325.8 36.26 L326.17 36.25 L326.55 36.24 L326.92 36.24 L327.3 36.23 L327.68 36.22 L328.05 36.22 L328.43 36.21 L328.8 36.21 L329.18 36.2 L329.55 36.2 L329.93 36.2 L330.3 36.2 L330.68 36.2 L331.05 36.2 L331.43 36.21 L331.81 36.21 L332.18 36.22 L332.56 36.24 L332.93 36.25 L333.31 36.27 L333.68 36.3 L334.06 36.32 L334.43 36.36 L334.81 36.4 L335.18 36.44 L335.56 36.5 L335.94 36.56 L336.31 36.63 L336.69 36.71 L337.06 36.81 L337.44 36.91 L337.81 37.03 L338.19 37.17 L338.56 37.32 L338.94 37.49 L339.31 37.69 L339.69 37.9 L340.06 38.14 L340.44 38.41 L340.82 38.71 L341.19 39.04 L341.57 39.4 L341.94 39.81 L342.32 40.25 L342.69 40.74 L343.07 41.28 L343.44 41.87 L343.82 42.52 L344.19 43.22 L344.57 43.99 L344.95 44.83 L345.32 45.73 L345.7 46.72 L346.07 47.78 L346.45 48.92 L346.82 50.16 L347.2 51.48 L347.57 52.9 L347.95 54.42 L348.32 56.04 L348.7 57.76 L349.08 59.59 L349.45 61.53 L349.83 63.57 L350.2 65.73 L350.58 67.99 L350.95 70.37 L351.33 72.85 L351.7 75.43 L352.08 78.11 L352.45 80.89 L352.83 83.75 L353.21 86.69 L353.58 89.69 L353.96 92.75 L354.33 95.85 L354.71 98.98 L355.08 102.12 L355.46 105.25 L355.83 108.35 L356.21 111.39 L356.58 114.36 L356.96 117.21 L357.34 119.92 L357.71 122.46 L358.09 124.78 L358.46 126.84 L358.84 128.57 L359.21 129.91 L359.59 130.72 L359.7 130.8 L359.96 130.47 L360.34 129.43 L360.71 127.92 L361.09 126.05 L361.46 123.88 L361.84 121.46 L362.22 118.85 L362.59 116.08 L362.97 113.18 L363.34 110.18 L363.72 107.11 L364.09 104 L364.47 100.86 L364.84 97.72 L365.22 94.6 L365.59 91.51 L365.97 88.48 L366.35 85.5 L366.72 82.59 L367.1 79.76 L367.47 77.02 L367.85 74.38 L368.22 71.84 L368.6 69.4 L368.97 67.07 L369.35 64.85 L369.72 62.74 L370.1 60.73 L370.48 58.84 L370.85 57.05 L371.23 55.37 L371.6 53.79 L371.98 52.32 L372.35 50.94 L372.73 49.65 L373.1 48.45 L373.48 47.34 L373.85 46.31 L374.23 45.36 L374.61 44.48 L374.98 43.67 L375.36 42.93 L375.73 42.25 L376.11 41.63 L376.48 41.06 L376.86 40.54 L377.23 40.07 L377.61 39.64 L377.98 39.25 L378.36 38.9 L378.74 38.58 L379.11 38.3 L379.49 38.04 L379.86 37.81 L380.24 37.61 L380.61 37.42 L380.99 37.26 L381.36 37.11 L381.74 36.98 L382.11 36.87 L382.49 36.77 L382.86 36.68 L383.24 36.6 L383.62 36.53 L383.99 36.48 L384.37 36.42 L384.74 36.38 L385.12 36.34 L385.49 36.31 L385.87 36.29 L386.24 36.26 L386.62 36.25 L386.99 36.23 L387.37 36.22 L387.75 36.21 L388.12 36.2 L388.5 36.2 L388.87 36.2 L389.25 36.2 L389.62 36.2 L390 36.2 L390.37 36.2 L390.75 36.21 L391.12 36.21 L391.5 36.22 L391.88 36.22 L392.25 36.23 L392.63 36.24 L393 36.25 L393.38 36.26 L393.75 36.26 L394.13 36.27 L394.5 36.28 L394.88 36.29 L395.25 36.3 L395.63 36.31 L396.01 36.32 L396.38 36.33 L396.76 36.34 L397.13 36.35 L397.51 36.36 L397.88 36.37 L398.26 36.38 L398.63 36.39 L399.01 36.4 L399.38 36.41 L399.76 36.42 L400.14 36.43 L400.51 36.44 L400.89 36.45 L401.26 36.46 L401.64 36.47 L402.01 36.48 L402.39 36.5 L402.76 36.51 L403.14 36.52 L403.51 36.53 L403.89 36.54 L404.26 36.55 L404.64 36.56 L405.02 36.57 L405.39 36.58 L405.77 36.59 L406.14 36.6 L406.52 36.61 L406.89 36.62 L407.27 36.63 L407.64 36.64 L408.02 36.65 L408.39 36.66 L408.77 36.67 L409.15 36.68 L409.52 36.69 L409.9 36.71 L410.27 36.72 L410.65 36.73 L411.02 36.74 L411.4 36.75 L411.77 36.76 L412.15 36.77 L412.52 36.78 L412.9 36.79 L413.28 36.8 L413.65 36.81 L414.03 36.82 L414.4 36.83 L414.78 36.84 L415.15 36.85 L415.53 36.86 L415.9 36.87 L416.28 36.88 L416.65 36.89 L417.03 36.91 L417.41 36.92 L417.78 36.93 L418.16 36.94 L418.53 36.95 L418.91 36.96 L419.28 36.97 L419.66 36.98 L420.03 36.99 L420.41 37 L420.78 37.01 L421.16 37.02 L421.54 37.03 L421.91 37.04 L422.29 37.05 L422.66 37.06 L423.04 37.07 L423.41 37.08 L423.79 37.09 L424.16 37.1 L424.54 37.12 L424.91 37.13 L425.29 37.14 L425.66 37.15 L426.04 37.16 L426.42 37.17 L426.79 37.18 L427.17 37.19 L427.54 37.2 L427.92 37.21 L428.29 37.22 L428.67 37.23 L429.04 37.24 L429.42 37.25 L429.79 37.26 L430.17 37.27 L430.55 37.28 L430.92 37.29 L431.3 37.3 L431.67 37.32 L432.05 37.33 L432.42 37.34 L432.8 37.35 L433.17 37.36 L433.55 37.37 L433.92 37.38 L434.3 37.39" stroke="#e3161b" stroke-width="1.6" fill="none" stroke-linejoin="round"/><rect x="264.5" y="3.2" width="186.6" height="149.9" fill="none" stroke="#111" stroke-width="2"/><path d="M268.9 153.1v3.2M314.45 153.1v3.2M360 153.1v3.2M405.55 153.1v3.2M451.1 153.1v3.2M291.67 153.1v2.2M337.22 153.1v2.2M382.77 153.1v2.2M428.32 153.1v2.2M264.5 143.2h-3.2M264.5 91.65h-3.2M264.5 40.1h-3.2M264.5 117.42h-2.2M264.5 65.88h-2.2M264.5 14.33h-2.2" stroke="#111" stroke-width="1.3" fill="none"/><g font-family="Liberation Sans" font-weight="bold" font-size="9.2" fill="#111" stroke="#111" stroke-width="0.3"><text x="268.9" y="165.5" text-anchor="middle">-10</text><text x="314.45" y="165.5" text-anchor="middle">-5</text><text x="360" y="165.5" text-anchor="middle">0</text><text x="405.55" y="165.5" text-anchor="middle">5</text><text x="451.1" y="165.5" text-anchor="middle">10</text><text x="259.1" y="146.2" text-anchor="end">0.50</text><text x="259.1" y="94.65" text-anchor="end">0.75</text><text x="259.1" y="43.1" text-anchor="end">1.00</text></g><text transform="translate(237.8,78.15) rotate(-90)" text-anchor="middle" font-family="Liberation Serif" font-weight="bold" font-size="12.6" fill="#111" stroke="#111" stroke-width="0.45">Normalised Transmittance</text><text x="348.5" y="177.7" font-family="Liberation Serif" font-weight="bold" font-size="12.5" fill="#111" stroke="#111" stroke-width="0.45">Z/Z<tspan font-size="14.5" dy="2.4" font-weight="normal" stroke-width="0.5">0</tspan></text><text transform="translate(272.7,18.9) scale(1.14,1)" font-family="Liberation Serif" font-weight="bold" font-size="10.6" fill="#111" stroke="#111" stroke-width="0.45"><tspan font-size="9.6" dy="-0.6">(</tspan><tspan dy="0.6">b</tspan><tspan font-size="9.6" dy="-0.6">)</tspan></text><text x="444.5" y="21" text-anchor="end" font-family="Liberation Serif" font-weight="bold" font-size="11.1" fill="#111" stroke="#111" stroke-width="0.45">250 mM</text></g>
<g><path d="M511.8 30.37V34.02M511.8 42.72V46.37M510.75 30.37h2.1M510.75 46.37h2.1M514.7 31.18V34.39M514.7 43.09V46.3M513.65 31.18h2.1M513.65 46.3h2.1M517.6 30.94V34.26M517.6 42.96V46.27M516.55 30.94h2.1M516.55 46.27h2.1M520.5 31.41V34.75M520.5 43.45V46.8M519.45 31.41h2.1M519.45 46.8h2.1M523.8 31.14V34.6M523.8 43.3V46.77M522.75 31.14h2.1M522.75 46.77h2.1M527.2 32.1V36.2M527.2 44.9V49M526.15 32.1h2.1M526.15 49h2.1M530.1 35.02V38.11M530.1 46.81V49.91M529.05 35.02h2.1M529.05 49.91h2.1M533.5 33.92V37.66M533.5 46.36V50.1M532.45 33.92h2.1M532.45 50.1h2.1M536.3 33.42V37.27M536.3 45.97V49.82M535.25 33.42h2.1M535.25 49.82h2.1M539.7 32.74V36.64M539.7 45.34V49.23M538.65 32.74h2.1M538.65 49.23h2.1M542.6 33.41V37.3M542.6 46V49.88M541.55 33.41h2.1M541.55 49.88h2.1M545.3 34.23V37.83M545.3 46.53V50.14M544.25 34.23h2.1M544.25 50.14h2.1M548.7 32.63V36.64M548.7 45.34V49.36M547.65 32.63h2.1M547.65 49.36h2.1M551.5 34.67V37.92M551.5 46.62V49.87M550.45 34.67h2.1M550.45 49.87h2.1M554.9 33.1V37.29M554.9 45.99V50.17M553.85 33.1h2.1M553.85 50.17h2.1M557.8 33.24V37.32M557.8 46.02V50.1M556.75 33.24h2.1M556.75 50.1h2.1M560.7 34.42V37.7M560.7 46.4V49.67M559.65 34.42h2.1M559.65 49.67h2.1M563.6 32.09V36.19M563.6 44.89V48.99M562.55 32.09h2.1M562.55 48.99h2.1M566.9 33.82V37.78M566.9 46.48V50.44M565.85 33.82h2.1M565.85 50.44h2.1M569.8 33.47V37.07M569.8 45.77V49.38M568.75 33.47h2.1M568.75 49.38h2.1M571.5 34.2V36.85M571.5 45.55V48.19M570.45 34.2h2.1M570.45 48.19h2.1M573 37.5V39.65M573 48.35V50.5M571.95 37.5h2.1M571.95 50.5h2.1M574.4 41.5V43.15M574.4 51.85V53.5M573.35 41.5h2.1M573.35 53.5h2.1M573.9 49.3V50.95M573.9 59.65V61.3M572.85 49.3h2.1M572.85 61.3h2.1M576 58.2V59.85M576 68.55V70.2M574.95 58.2h2.1M574.95 70.2h2.1M577.3 67.1V68.75M577.3 77.45V79.1M576.25 67.1h2.1M576.25 79.1h2.1M578.7 79.5V81.15M578.7 89.85V91.5M577.65 79.5h2.1M577.65 91.5h2.1M580.1 96.3V97.95M580.1 106.65V108.3M579.05 96.3h2.1M579.05 108.3h2.1M582.1 108V109.65M582.1 118.35V120M581.05 108h2.1M581.05 120h2.1M582.8 115.5V117.15M582.8 125.85V127.5M581.75 115.5h2.1M581.75 127.5h2.1M584.9 124.5V126.15M584.9 134.85V136.5M583.85 124.5h2.1M583.85 136.5h2.1M586.3 128.6V130.25M586.3 138.95V140.6M585.25 128.6h2.1M585.25 140.6h2.1M589 121.7V123.35M589 132.05V133.7M587.95 121.7h2.1M587.95 133.7h2.1M590.4 113.5V115.15M590.4 123.85V125.5M589.35 113.5h2.1M589.35 125.5h2.1M591.1 102.5V104.15M591.1 112.85V114.5M590.05 102.5h2.1M590.05 114.5h2.1M592.4 86.7V88.35M592.4 97.05V98.7M591.35 86.7h2.1M591.35 98.7h2.1M594.5 72.6V74.25M594.5 82.95V84.6M593.45 72.6h2.1M593.45 84.6h2.1M595.9 62.3V63.95M595.9 72.65V74.3M594.85 62.3h2.1M594.85 74.3h2.1M597.2 52V53.65M597.2 62.35V64M596.15 52h2.1M596.15 64h2.1M598.6 42.4V44.05M598.6 52.75V54.4M597.55 42.4h2.1M597.55 54.4h2.1M597.2 45.2V46.85M597.2 55.55V57.2M596.15 45.2h2.1M596.15 57.2h2.1M598.3 40.8V42.45M598.3 51.15V52.8M597.25 40.8h2.1M597.25 52.8h2.1M600.5 36.5V38.65M600.5 47.35V49.5M599.45 36.5h2.1M599.45 49.5h2.1M603.2 33.84V36.41M603.2 45.11V47.68M602.15 33.84h2.1M602.15 47.68h2.1M606 33.34V36.62M606 45.32V48.59M604.95 33.34h2.1M604.95 48.59h2.1M608.2 32.39V36.29M608.2 44.99V48.88M607.15 32.39h2.1M607.15 48.88h2.1M610.9 33.62V36.72M610.9 45.42V48.51M609.85 33.62h2.1M609.85 48.51h2.1M613.7 32.4V36.21M613.7 44.91V48.73M612.65 32.4h2.1M612.65 48.73h2.1M616.4 32.77V35.88M616.4 44.58V47.69M615.35 32.77h2.1M615.35 47.69h2.1M618.6 31.87V35.12M618.6 43.82V47.07M617.55 31.87h2.1M617.55 47.07h2.1M621.3 33.24V36.48M621.3 45.18V48.43M620.25 33.24h2.1M620.25 48.43h2.1M624.1 31.83V35.3M624.1 44V47.47M623.05 31.83h2.1M623.05 47.47h2.1M626.8 31.93V35.82M626.8 44.52V48.41M625.75 31.93h2.1M625.75 48.41h2.1M629.6 32.92V36.29M629.6 44.99V48.36M628.55 32.92h2.1M628.55 48.36h2.1M631.8 33.31V36.39M631.8 45.09V48.16M630.75 33.31h2.1M630.75 48.16h2.1M634.5 32.04V35.33M634.5 44.03V47.31M633.45 32.04h2.1M633.45 47.31h2.1M637.3 31.58V35.17M637.3 43.87V47.45M636.25 31.58h2.1M636.25 47.45h2.1M639.9 32.1V35.35M639.9 44.05V47.29M638.85 32.1h2.1M638.85 47.29h2.1M642.7 31.28V34.59M642.7 43.29V46.6M641.65 31.28h2.1M641.65 46.6h2.1M646 29.64V33.77M646 42.47V46.59M644.95 29.64h2.1M644.95 46.59h2.1M648.7 30.15V34.1M648.7 42.8V46.75M647.65 30.15h2.1M647.65 46.75h2.1M652 29.92V33.69M652 42.39V46.16M650.95 29.92h2.1M650.95 46.16h2.1M655.3 29.01V32.72M655.3 41.42V45.14M654.25 29.01h2.1M654.25 45.14h2.1M658 26.63V30.84M658 39.54V43.76M656.95 26.63h2.1M656.95 43.76h2.1M661.3 25.9V30.05M661.3 38.75V42.9M660.25 25.9h2.1M660.25 42.9h2.1" stroke="#111" stroke-width="1.0" fill="none"/><g fill="none" stroke="#178217" stroke-width="1.4"><circle cx="509.5" cy="39.25" r="3.65"/><circle cx="511.8" cy="38.37" r="3.65"/><circle cx="514.7" cy="38.74" r="3.65"/><circle cx="517.6" cy="38.61" r="3.65"/><circle cx="520.5" cy="39.1" r="3.65"/><circle cx="523.8" cy="38.95" r="3.65"/><circle cx="527.2" cy="40.55" r="3.65"/><circle cx="530.1" cy="42.46" r="3.65"/><circle cx="533.5" cy="42.01" r="3.65"/><circle cx="536.3" cy="41.62" r="3.65"/><circle cx="539.7" cy="40.99" r="3.65"/><circle cx="542.6" cy="41.65" r="3.65"/><circle cx="545.3" cy="42.18" r="3.65"/><circle cx="548.7" cy="40.99" r="3.65"/><circle cx="551.5" cy="42.27" r="3.65"/><circle cx="554.9" cy="41.64" r="3.65"/><circle cx="557.8" cy="41.67" r="3.65"/><circle cx="560.7" cy="42.05" r="3.65"/><circle cx="563.6" cy="40.54" r="3.65"/><circle cx="566.9" cy="42.13" r="3.65"/><circle cx="569.8" cy="41.42" r="3.65"/><circle cx="571.5" cy="41.2" r="3.65"/><circle cx="573" cy="44" r="3.65"/><circle cx="574.4" cy="47.5" r="3.65"/><circle cx="573.9" cy="55.3" r="3.65"/><circle cx="576" cy="64.2" r="3.65"/><circle cx="577.3" cy="73.1" r="3.65"/><circle cx="578.7" cy="85.5" r="3.65"/><circle cx="580.1" cy="102.3" r="3.65"/><circle cx="582.1" cy="114" r="3.65"/><circle cx="582.8" cy="121.5" r="3.65"/><circle cx="584.9" cy="130.5" r="3.65"/><circle cx="586.3" cy="134.6" r="3.65"/><circle cx="589" cy="127.7" r="3.65"/><circle cx="590.4" cy="119.5" r="3.65"/><circle cx="591.1" cy="108.5" r="3.65"/><circle cx="592.4" cy="92.7" r="3.65"/><circle cx="594.5" cy="78.6" r="3.65"/><circle cx="595.9" cy="68.3" r="3.65"/><circle cx="597.2" cy="58" r="3.65"/><circle cx="598.6" cy="48.4" r="3.65"/><circle cx="597.2" cy="51.2" r="3.65"/><circle cx="598.3" cy="46.8" r="3.65"/><circle cx="600.5" cy="43" r="3.65"/><circle cx="603.2" cy="40.76" r="3.65"/><circle cx="606" cy="40.97" r="3.65"/><circle cx="608.2" cy="40.64" r="3.65"/><circle cx="610.9" cy="41.07" r="3.65"/><circle cx="613.7" cy="40.56" r="3.65"/><circle cx="616.4" cy="40.23" r="3.65"/><circle cx="618.6" cy="39.47" r="3.65"/><circle cx="621.3" cy="40.83" r="3.65"/><circle cx="624.1" cy="39.65" r="3.65"/><circle cx="626.8" cy="40.17" r="3.65"/><circle cx="629.6" cy="40.64" r="3.65"/><circle cx="631.8" cy="40.74" r="3.65"/><circle cx="634.5" cy="39.68" r="3.65"/><circle cx="637.3" cy="39.52" r="3.65"/><circle cx="639.9" cy="39.7" r="3.65"/><circle cx="642.7" cy="38.94" r="3.65"/><circle cx="646" cy="38.12" r="3.65"/><circle cx="648.7" cy="38.45" r="3.65"/><circle cx="652" cy="38.04" r="3.65"/><circle cx="655.3" cy="37.07" r="3.65"/><circle cx="658" cy="35.19" r="3.65"/><circle cx="661.3" cy="34.4" r="3.65"/><circle cx="513.25" cy="38.56" r="3.65" stroke-width="0.9"/><circle cx="516.15" cy="38.67" r="3.65" stroke-width="0.9"/><circle cx="519.05" cy="38.85" r="3.65" stroke-width="0.9"/><circle cx="522.15" cy="39.03" r="3.65" stroke-width="0.9"/><circle cx="525.5" cy="39.75" r="3.65" stroke-width="0.9"/><circle cx="528.65" cy="41.51" r="3.65" stroke-width="0.9"/><circle cx="531.8" cy="42.24" r="3.65" stroke-width="0.9"/><circle cx="534.9" cy="41.81" r="3.65" stroke-width="0.9"/><circle cx="538" cy="41.3" r="3.65" stroke-width="0.9"/><circle cx="541.15" cy="41.32" r="3.65" stroke-width="0.9"/><circle cx="543.95" cy="41.92" r="3.65" stroke-width="0.9"/><circle cx="547" cy="41.59" r="3.65" stroke-width="0.9"/><circle cx="550.1" cy="41.63" r="3.65" stroke-width="0.9"/><circle cx="553.2" cy="41.95" r="3.65" stroke-width="0.9"/><circle cx="556.35" cy="41.65" r="3.65" stroke-width="0.9"/><circle cx="559.25" cy="41.86" r="3.65" stroke-width="0.9"/><circle cx="562.15" cy="41.29" r="3.65" stroke-width="0.9"/><circle cx="565.25" cy="41.33" r="3.65" stroke-width="0.9"/><circle cx="568.35" cy="41.78" r="3.65" stroke-width="0.9"/><circle cx="607.1" cy="40.8" r="3.65" stroke-width="0.9"/><circle cx="609.55" cy="40.85" r="3.65" stroke-width="0.9"/><circle cx="612.3" cy="40.82" r="3.65" stroke-width="0.9"/><circle cx="615.05" cy="40.4" r="3.65" stroke-width="0.9"/><circle cx="617.5" cy="39.85" r="3.65" stroke-width="0.9"/><circle cx="619.95" cy="40.15" r="3.65" stroke-width="0.9"/><circle cx="622.7" cy="40.24" r="3.65" stroke-width="0.9"/><circle cx="625.45" cy="39.91" r="3.65" stroke-width="0.9"/><circle cx="628.2" cy="40.41" r="3.65" stroke-width="0.9"/><circle cx="630.7" cy="40.69" r="3.65" stroke-width="0.9"/><circle cx="633.15" cy="40.21" r="3.65" stroke-width="0.9"/><circle cx="635.9" cy="39.6" r="3.65" stroke-width="0.9"/><circle cx="638.6" cy="39.61" r="3.65" stroke-width="0.9"/><circle cx="641.3" cy="39.32" r="3.65" stroke-width="0.9"/><circle cx="644.35" cy="38.53" r="3.65" stroke-width="0.9"/><circle cx="647.35" cy="38.28" r="3.65" stroke-width="0.9"/><circle cx="650.35" cy="38.24" r="3.65" stroke-width="0.9"/><circle cx="653.65" cy="37.56" r="3.65" stroke-width="0.9"/><circle cx="656.65" cy="36.13" r="3.65" stroke-width="0.9"/></g><path d="M661.3 25.9V42.9" stroke="#111" stroke-width="1.0"/><circle cx="661.3" cy="34.4" r="3.65" fill="#fff" stroke="#178217" stroke-width="1.4"/><path d="M510.4 39.66 L510.78 39.64 L511.16 39.63 L511.53 39.62 L511.91 39.6 L512.29 39.59 L512.67 39.58 L513.05 39.56 L513.43 39.55 L513.8 39.54 L514.18 39.52 L514.56 39.51 L514.94 39.5 L515.32 39.48 L515.69 39.47 L516.07 39.46 L516.45 39.44 L516.83 39.43 L517.21 39.42 L517.59 39.41 L517.96 39.39 L518.34 39.38 L518.72 39.37 L519.1 39.35 L519.48 39.34 L519.85 39.33 L520.23 39.31 L520.61 39.3 L520.99 39.29 L521.37 39.27 L521.75 39.26 L522.12 39.25 L522.5 39.23 L522.88 39.22 L523.26 39.21 L523.64 39.19 L524.02 39.18 L524.39 39.17 L524.77 39.15 L525.15 39.14 L525.53 39.13 L525.91 39.11 L526.28 39.1 L526.66 39.09 L527.04 39.07 L527.42 39.06 L527.8 39.05 L528.18 39.03 L528.55 39.02 L528.93 39.01 L529.31 38.99 L529.69 38.98 L530.07 38.97 L530.44 38.95 L530.82 38.94 L531.2 38.93 L531.58 38.92 L531.96 38.9 L532.34 38.89 L532.71 38.88 L533.09 38.86 L533.47 38.85 L533.85 38.84 L534.23 38.82 L534.6 38.81 L534.98 38.8 L535.36 38.78 L535.74 38.77 L536.12 38.76 L536.5 38.74 L536.87 38.73 L537.25 38.72 L537.63 38.7 L538.01 38.69 L538.39 38.68 L538.76 38.66 L539.14 38.65 L539.52 38.64 L539.9 38.62 L540.28 38.61 L540.66 38.6 L541.03 38.58 L541.41 38.57 L541.79 38.56 L542.17 38.54 L542.55 38.53 L542.92 38.52 L543.3 38.51 L543.68 38.49 L544.06 38.48 L544.44 38.47 L544.82 38.45 L545.19 38.44 L545.57 38.43 L545.95 38.41 L546.33 38.4 L546.71 38.39 L547.08 38.37 L547.46 38.36 L547.84 38.35 L548.22 38.34 L548.6 38.32 L548.98 38.31 L549.35 38.3 L549.73 38.29 L550.11 38.27 L550.49 38.26 L550.87 38.25 L551.25 38.24 L551.62 38.23 L552 38.22 L552.38 38.21 L552.76 38.2 L553.14 38.19 L553.51 38.18 L553.89 38.17 L554.27 38.16 L554.65 38.15 L555.03 38.15 L555.41 38.14 L555.78 38.14 L556.16 38.14 L556.54 38.14 L556.92 38.14 L557.3 38.14 L557.67 38.15 L558.05 38.16 L558.43 38.17 L558.81 38.18 L559.19 38.2 L559.57 38.22 L559.94 38.25 L560.32 38.29 L560.7 38.32 L561.08 38.37 L561.46 38.42 L561.83 38.48 L562.21 38.56 L562.59 38.64 L562.97 38.73 L563.35 38.83 L563.73 38.95 L564.1 39.09 L564.48 39.24 L564.86 39.41 L565.24 39.59 L565.62 39.81 L565.99 40.04 L566.37 40.3 L566.75 40.59 L567.13 40.92 L567.51 41.27 L567.89 41.66 L568.26 42.1 L568.64 42.57 L569.02 43.09 L569.4 43.66 L569.78 44.28 L570.15 44.96 L570.53 45.7 L570.91 46.5 L571.29 47.37 L571.67 48.31 L572.05 49.33 L572.42 50.42 L572.8 51.6 L573.18 52.86 L573.56 54.21 L573.94 55.66 L574.32 57.2 L574.69 58.84 L575.07 60.58 L575.45 62.42 L575.83 64.37 L576.21 66.43 L576.58 68.59 L576.96 70.85 L577.34 73.22 L577.72 75.69 L578.1 78.26 L578.48 80.92 L578.85 83.67 L579.23 86.5 L579.61 89.41 L579.99 92.38 L580.37 95.4 L580.74 98.47 L581.12 101.55 L581.5 104.65 L581.88 107.74 L582.26 110.81 L582.64 113.82 L583.01 116.76 L583.39 119.6 L583.77 122.3 L584.15 124.85 L584.53 127.2 L584.9 129.31 L585.28 131.12 L585.66 132.59 L586.04 133.59 L586.3 133.9 L586.42 133.82 L586.8 133.03 L587.17 131.73 L587.55 130.03 L587.93 128.03 L588.31 125.77 L588.69 123.29 L589.06 120.64 L589.44 117.85 L589.82 114.94 L590.2 111.96 L590.58 108.91 L590.96 105.83 L591.33 102.73 L591.71 99.64 L592.09 96.56 L592.47 93.52 L592.85 90.53 L593.22 87.6 L593.6 84.74 L593.98 81.96 L594.36 79.26 L594.74 76.66 L595.12 74.15 L595.49 71.74 L595.87 69.44 L596.25 67.24 L596.63 65.14 L597.01 63.15 L597.38 61.27 L597.76 59.49 L598.14 57.81 L598.52 56.23 L598.9 54.75 L599.28 53.36 L599.65 52.06 L600.03 50.86 L600.41 49.73 L600.79 48.69 L601.17 47.72 L601.55 46.82 L601.92 46 L602.3 45.23 L602.68 44.53 L603.06 43.89 L603.44 43.3 L603.81 42.76 L604.19 42.27 L604.57 41.82 L604.95 41.42 L605.33 41.05 L605.71 40.71 L606.08 40.41 L606.46 40.14 L606.84 39.89 L607.22 39.67 L607.6 39.47 L607.97 39.3 L608.35 39.14 L608.73 39 L609.11 38.88 L609.49 38.77 L609.87 38.67 L610.24 38.58 L610.62 38.51 L611 38.45 L611.38 38.39 L611.76 38.34 L612.13 38.3 L612.51 38.26 L612.89 38.23 L613.27 38.21 L613.65 38.19 L614.03 38.17 L614.4 38.16 L614.78 38.15 L615.16 38.14 L615.54 38.14 L615.92 38.14 L616.29 38.14 L616.67 38.14 L617.05 38.14 L617.43 38.15 L617.81 38.15 L618.19 38.16 L618.56 38.17 L618.94 38.17 L619.32 38.18 L619.7 38.19 L620.08 38.2 L620.45 38.21 L620.83 38.22 L621.21 38.23 L621.59 38.25 L621.97 38.26 L622.35 38.27 L622.72 38.28 L623.1 38.29 L623.48 38.31 L623.86 38.32 L624.24 38.33 L624.62 38.34 L624.99 38.36 L625.37 38.37 L625.75 38.38 L626.13 38.4 L626.51 38.41 L626.88 38.42 L627.26 38.43 L627.64 38.45 L628.02 38.46 L628.4 38.47 L628.78 38.49 L629.15 38.5 L629.53 38.51 L629.91 38.53 L630.29 38.54 L630.67 38.55 L631.04 38.57 L631.42 38.58 L631.8 38.59 L632.18 38.61 L632.56 38.62 L632.94 38.63 L633.31 38.65 L633.69 38.66 L634.07 38.67 L634.45 38.69 L634.83 38.7 L635.2 38.71 L635.58 38.72 L635.96 38.74 L636.34 38.75 L636.72 38.76 L637.1 38.78 L637.47 38.79 L637.85 38.8 L638.23 38.82 L638.61 38.83 L638.99 38.84 L639.36 38.86 L639.74 38.87 L640.12 38.88 L640.5 38.9 L640.88 38.91 L641.26 38.92 L641.63 38.94 L642.01 38.95 L642.39 38.96 L642.77 38.98 L643.15 38.99 L643.52 39 L643.9 39.02 L644.28 39.03 L644.66 39.04 L645.04 39.06 L645.42 39.07 L645.79 39.08 L646.17 39.1 L646.55 39.11 L646.93 39.12 L647.31 39.14 L647.68 39.15 L648.06 39.16 L648.44 39.17 L648.82 39.19 L649.2 39.2 L649.58 39.21 L649.95 39.23 L650.33 39.24 L650.71 39.25 L651.09 39.27 L651.47 39.28 L651.85 39.29 L652.22 39.31 L652.6 39.32 L652.98 39.33 L653.36 39.35 L653.74 39.36 L654.11 39.37 L654.49 39.39 L654.87 39.4 L655.25 39.41 L655.63 39.43 L656.01 39.44 L656.38 39.45 L656.76 39.47 L657.14 39.48 L657.52 39.49 L657.9 39.51 L658.27 39.52 L658.65 39.53 L659.03 39.55 L659.41 39.56 L659.79 39.57 L660.17 39.59 L660.54 39.6 L660.92 39.61 L661.3 39.63" stroke="#e3161b" stroke-width="1.6" fill="none" stroke-linejoin="round"/><rect x="491.1" y="3.15" width="186.6" height="150.2" fill="none" stroke="#111" stroke-width="2"/><path d="M495.5 153.35v3.2M541.05 153.35v3.2M586.6 153.35v3.2M632.15 153.35v3.2M677.7 153.35v3.2M518.27 153.35v2.2M563.83 153.35v2.2M609.38 153.35v2.2M654.92 153.35v2.2M491.1 143.15h-3.2M491.1 91.6h-3.2M491.1 40.05h-3.2M491.1 117.37h-2.2M491.1 65.82h-2.2M491.1 14.27h-2.2" stroke="#111" stroke-width="1.3" fill="none"/><g font-family="Liberation Sans" font-weight="bold" font-size="9.2" fill="#111" stroke="#111" stroke-width="0.3"><text x="495.5" y="165.75" text-anchor="middle">-10</text><text x="541.05" y="165.75" text-anchor="middle">-5</text><text x="586.6" y="165.75" text-anchor="middle">0</text><text x="632.15" y="165.75" text-anchor="middle">5</text><text x="677.7" y="165.75" text-anchor="middle">10</text><text x="485.7" y="146.15" text-anchor="end">0.50</text><text x="485.7" y="94.6" text-anchor="end">0.75</text><text x="485.7" y="43.05" text-anchor="end">1.00</text></g><text transform="translate(464.4,78.25) rotate(-90)" text-anchor="middle" font-family="Liberation Serif" font-weight="bold" font-size="12.6" fill="#111" stroke="#111" stroke-width="0.45">Normalised Transmittance</text><text x="575.1" y="177.7" font-family="Liberation Serif" font-weight="bold" font-size="12.5" fill="#111" stroke="#111" stroke-width="0.45">Z/Z<tspan font-size="14.5" dy="2.4" font-weight="normal" stroke-width="0.5">0</tspan></text><text transform="translate(499.3,18.85) scale(1.14,1)" font-family="Liberation Serif" font-weight="bold" font-size="10.6" fill="#111" stroke="#111" stroke-width="0.45"><tspan font-size="9.6" dy="-0.6">(</tspan><tspan dy="0.6">c</tspan><tspan font-size="9.6" dy="-0.6">)</tspan></text><text x="671.1" y="20.95" text-anchor="end" font-family="Liberation Serif" font-weight="bold" font-size="11.1" fill="#111" stroke="#111" stroke-width="0.45">350 mM</text></g>
<g><path d="M176.5 215.86V219.14M176.5 227.84V231.11M175.45 215.86h2.1M175.45 231.11h2.1M179.8 214.74V218.89M179.8 227.59V231.74M178.75 214.74h2.1M178.75 231.74h2.1M182.5 215.13V218.65M182.5 227.35V230.87M181.45 215.13h2.1M181.45 230.87h2.1M185.8 213.94V218.11M185.8 226.81V230.97M184.75 213.94h2.1M184.75 230.97h2.1M189.1 214.7V218.05M189.1 226.75V230.11M188.05 214.7h2.1M188.05 230.11h2.1M191.9 214.59V218.98M191.9 227.68V232.08M190.85 214.59h2.1M190.85 232.08h2.1M195.2 213.89V217.76M195.2 226.46V230.32M194.15 213.89h2.1M194.15 230.32h2.1M197.9 215.23V219.21M197.9 227.91V231.9M196.85 215.23h2.1M196.85 231.9h2.1M201.2 215.45V219.05M201.2 227.75V231.35M200.15 215.45h2.1M200.15 231.35h2.1M204 215.79V219.9M204 228.6V232.71M202.95 215.79h2.1M202.95 232.71h2.1M206.7 216.31V219.73M206.7 228.43V231.85M205.65 216.31h2.1M205.65 231.85h2.1M209.9 217.16V220.42M209.9 229.12V232.38M208.85 217.16h2.1M208.85 232.38h2.1M213.2 219.17V221.95M213.2 230.65V233.42M212.15 219.17h2.1M212.15 233.42h2.1M216 218.9V221.76M216 230.46V233.33M214.95 218.9h2.1M214.95 233.33h2.1M219.3 217.75V220.92M219.3 229.62V232.79M218.25 217.75h2.1M218.25 232.79h2.1M222 217.52V220.7M222 229.4V232.58M220.95 217.52h2.1M220.95 232.58h2.1M225.3 216.85V219.79M225.3 228.49V231.42M224.25 216.85h2.1M224.25 231.42h2.1M228.1 214.9V217.71M228.1 226.41V229.22M227.05 214.9h2.1M227.05 229.22h2.1M231.4 215.91V219.46M231.4 228.16V231.7M230.35 215.91h2.1M230.35 231.7h2.1M234.1 217.13V220.43M234.1 229.13V232.44M233.05 217.13h2.1M233.05 232.44h2.1M236.9 221.5V223.65M236.9 232.35V234.5M235.85 221.5h2.1M235.85 234.5h2.1M238 223V224.65M238 233.35V235M236.95 223h2.1M236.95 235h2.1M239.8 231.8V233.45M239.8 242.15V243.8M238.75 231.8h2.1M238.75 243.8h2.1M240.6 241.7V243.35M240.6 252.05V253.7M239.55 241.7h2.1M239.55 253.7h2.1M242.1 254.5V256.15M242.1 264.85V266.5M241.05 254.5h2.1M241.05 266.5h2.1M243.6 267.3V268.95M243.6 277.65V279.3M242.55 267.3h2.1M242.55 279.3h2.1M244.8 280.5V282.15M244.8 290.85V292.5M243.75 280.5h2.1M243.75 292.5h2.1M246.5 294.5V296.15M246.5 304.85V306.5M245.45 294.5h2.1M245.45 306.5h2.1M248.1 306.8V308.45M248.1 317.15V318.8M247.05 306.8h2.1M247.05 318.8h2.1M249.8 316.7V318.35M249.8 327.05V328.7M248.75 316.7h2.1M248.75 328.7h2.1M250.6 320V321.65M250.6 330.35V332M249.55 320h2.1M249.55 332h2.1M253.9 312.6V314.25M253.9 322.95V324.6M252.85 312.6h2.1M252.85 324.6h2.1M255.5 301.9V303.55M255.5 312.25V313.9M254.45 301.9h2.1M254.45 313.9h2.1M257.2 285.4V287.05M257.2 295.75V297.4M256.15 285.4h2.1M256.15 297.4h2.1M258.8 268.1V269.75M258.8 278.45V280.1M257.75 268.1h2.1M257.75 280.1h2.1M261 255.3V256.95M261 265.65V267.3M259.95 255.3h2.1M259.95 267.3h2.1M261.7 245.4V247.05M261.7 255.75V257.4M260.65 245.4h2.1M260.65 257.4h2.1M263.2 233.4V235.05M263.2 243.75V245.4M262.15 233.4h2.1M262.15 245.4h2.1M262.9 225.5V227.15M262.9 235.85V237.5M261.85 225.5h2.1M261.85 237.5h2.1M264.7 223.5V225.15M264.7 233.85V235.5M263.65 223.5h2.1M263.65 235.5h2.1M264.8 220.7V222.85M264.8 231.55V233.7M263.75 220.7h2.1M263.75 233.7h2.1M266.7 217.4V220.44M266.7 229.14V232.17M265.65 217.4h2.1M265.65 232.17h2.1M267.9 217.53V221.11M267.9 229.81V233.39M266.85 217.53h2.1M266.85 233.39h2.1M271 217.83V220.98M271 229.68V232.84M269.95 217.83h2.1M269.95 232.84h2.1M274.1 215.27V219.38M274.1 228.08V232.19M273.05 215.27h2.1M273.05 232.19h2.1M277.2 215.59V218.84M277.2 227.54V230.78M276.15 215.59h2.1M276.15 230.78h2.1M280.2 215.79V218.96M280.2 227.66V230.82M279.15 215.79h2.1M279.15 230.82h2.1M283.3 215.8V219.03M283.3 227.73V230.96M282.25 215.8h2.1M282.25 230.96h2.1M286.4 213.46V217.64M286.4 226.34V230.52M285.35 213.46h2.1M285.35 230.52h2.1M289.5 214.53V218.73M289.5 227.43V231.63M288.45 214.53h2.1M288.45 231.63h2.1M292.6 215.59V219.34M292.6 228.04V231.79M291.55 215.59h2.1M291.55 231.79h2.1M295.7 215.19V219.63M295.7 228.33V232.76M294.65 215.19h2.1M294.65 232.76h2.1M298.8 216.05V220.11M298.8 228.81V232.87M297.75 216.05h2.1M297.75 232.87h2.1M301.9 215.44V219.22M301.9 227.92V231.7M300.85 215.44h2.1M300.85 231.7h2.1M302.9 214.98V218.39M302.9 227.09V230.51M301.85 214.98h2.1M301.85 230.51h2.1M306 214.57V218.55M306 227.25V231.22M304.95 214.57h2.1M304.95 231.22h2.1M309.1 214.26V217.82M309.1 226.52V230.09M308.05 214.26h2.1M308.05 230.09h2.1M312.2 214.3V218.12M312.2 226.82V230.63M311.15 214.3h2.1M311.15 230.63h2.1M315.9 214.77V217.87M315.9 226.57V229.68M314.85 214.77h2.1M314.85 229.68h2.1M319 214.57V218.53M319 227.23V231.2M317.95 214.57h2.1M317.95 231.2h2.1M322.1 214.68V218.23M322.1 226.93V230.48M321.05 214.68h2.1M321.05 230.48h2.1M325.8 213.3V216.95M325.8 225.65V229.3M324.75 213.3h2.1M324.75 229.3h2.1" stroke="#111" stroke-width="1.0" fill="none"/><g fill="none" stroke="#178217" stroke-width="1.4"><circle cx="174.7" cy="223" r="3.65"/><circle cx="176.5" cy="223.49" r="3.65"/><circle cx="179.8" cy="223.24" r="3.65"/><circle cx="182.5" cy="223" r="3.65"/><circle cx="185.8" cy="222.46" r="3.65"/><circle cx="189.1" cy="222.4" r="3.65"/><circle cx="191.9" cy="223.33" r="3.65"/><circle cx="195.2" cy="222.11" r="3.65"/><circle cx="197.9" cy="223.56" r="3.65"/><circle cx="201.2" cy="223.4" r="3.65"/><circle cx="204" cy="224.25" r="3.65"/><circle cx="206.7" cy="224.08" r="3.65"/><circle cx="209.9" cy="224.77" r="3.65"/><circle cx="213.2" cy="226.3" r="3.65"/><circle cx="216" cy="226.11" r="3.65"/><circle cx="219.3" cy="225.27" r="3.65"/><circle cx="222" cy="225.05" r="3.65"/><circle cx="225.3" cy="224.14" r="3.65"/><circle cx="228.1" cy="222.06" r="3.65"/><circle cx="231.4" cy="223.81" r="3.65"/><circle cx="234.1" cy="224.78" r="3.65"/><circle cx="236.9" cy="228" r="3.65"/><circle cx="238" cy="229" r="3.65"/><circle cx="239.8" cy="237.8" r="3.65"/><circle cx="240.6" cy="247.7" r="3.65"/><circle cx="242.1" cy="260.5" r="3.65"/><circle cx="243.6" cy="273.3" r="3.65"/><circle cx="244.8" cy="286.5" r="3.65"/><circle cx="246.5" cy="300.5" r="3.65"/><circle cx="248.1" cy="312.8" r="3.65"/><circle cx="249.8" cy="322.7" r="3.65"/><circle cx="250.6" cy="326" r="3.65"/><circle cx="253.9" cy="318.6" r="3.65"/><circle cx="255.5" cy="307.9" r="3.65"/><circle cx="257.2" cy="291.4" r="3.65"/><circle cx="258.8" cy="274.1" r="3.65"/><circle cx="261" cy="261.3" r="3.65"/><circle cx="261.7" cy="251.4" r="3.65"/><circle cx="263.2" cy="239.4" r="3.65"/><circle cx="262.9" cy="231.5" r="3.65"/><circle cx="264.7" cy="229.5" r="3.65"/><circle cx="264.8" cy="227.2" r="3.65"/><circle cx="266.7" cy="224.79" r="3.65"/><circle cx="267.9" cy="225.46" r="3.65"/><circle cx="271" cy="225.33" r="3.65"/><circle cx="274.1" cy="223.73" r="3.65"/><circle cx="277.2" cy="223.19" r="3.65"/><circle cx="280.2" cy="223.31" r="3.65"/><circle cx="283.3" cy="223.38" r="3.65"/><circle cx="286.4" cy="221.99" r="3.65"/><circle cx="289.5" cy="223.08" r="3.65"/><circle cx="292.6" cy="223.69" r="3.65"/><circle cx="295.7" cy="223.98" r="3.65"/><circle cx="298.8" cy="224.46" r="3.65"/><circle cx="301.9" cy="223.57" r="3.65"/><circle cx="302.9" cy="222.74" r="3.65"/><circle cx="306" cy="222.9" r="3.65"/><circle cx="309.1" cy="222.17" r="3.65"/><circle cx="312.2" cy="222.47" r="3.65"/><circle cx="315.9" cy="222.22" r="3.65"/><circle cx="319" cy="222.88" r="3.65"/><circle cx="322.1" cy="222.58" r="3.65"/><circle cx="325.8" cy="221.3" r="3.65"/><circle cx="178.15" cy="223.36" r="3.65" stroke-width="0.9"/><circle cx="181.15" cy="223.12" r="3.65" stroke-width="0.9"/><circle cx="184.15" cy="222.73" r="3.65" stroke-width="0.9"/><circle cx="187.45" cy="222.43" r="3.65" stroke-width="0.9"/><circle cx="190.5" cy="222.87" r="3.65" stroke-width="0.9"/><circle cx="193.55" cy="222.72" r="3.65" stroke-width="0.9"/><circle cx="196.55" cy="222.83" r="3.65" stroke-width="0.9"/><circle cx="199.55" cy="223.48" r="3.65" stroke-width="0.9"/><circle cx="202.6" cy="223.83" r="3.65" stroke-width="0.9"/><circle cx="205.35" cy="224.16" r="3.65" stroke-width="0.9"/><circle cx="208.3" cy="224.42" r="3.65" stroke-width="0.9"/><circle cx="211.55" cy="225.53" r="3.65" stroke-width="0.9"/><circle cx="214.6" cy="226.2" r="3.65" stroke-width="0.9"/><circle cx="217.65" cy="225.69" r="3.65" stroke-width="0.9"/><circle cx="220.65" cy="225.16" r="3.65" stroke-width="0.9"/><circle cx="223.65" cy="224.59" r="3.65" stroke-width="0.9"/><circle cx="226.7" cy="223.1" r="3.65" stroke-width="0.9"/><circle cx="229.75" cy="222.93" r="3.65" stroke-width="0.9"/><circle cx="232.75" cy="224.29" r="3.65" stroke-width="0.9"/><circle cx="267.3" cy="225.12" r="3.65" stroke-width="0.9"/><circle cx="269.45" cy="225.4" r="3.65" stroke-width="0.9"/><circle cx="272.55" cy="224.53" r="3.65" stroke-width="0.9"/><circle cx="275.65" cy="223.46" r="3.65" stroke-width="0.9"/><circle cx="278.7" cy="223.25" r="3.65" stroke-width="0.9"/><circle cx="281.75" cy="223.34" r="3.65" stroke-width="0.9"/><circle cx="284.85" cy="222.68" r="3.65" stroke-width="0.9"/><circle cx="287.95" cy="222.53" r="3.65" stroke-width="0.9"/><circle cx="291.05" cy="223.38" r="3.65" stroke-width="0.9"/><circle cx="294.15" cy="223.83" r="3.65" stroke-width="0.9"/><circle cx="297.25" cy="224.22" r="3.65" stroke-width="0.9"/><circle cx="300.35" cy="224.02" r="3.65" stroke-width="0.9"/><circle cx="302.4" cy="223.16" r="3.65" stroke-width="0.9"/><circle cx="304.45" cy="222.82" r="3.65" stroke-width="0.9"/><circle cx="307.55" cy="222.53" r="3.65" stroke-width="0.9"/><circle cx="310.65" cy="222.32" r="3.65" stroke-width="0.9"/><circle cx="314.05" cy="222.35" r="3.65" stroke-width="0.9"/><circle cx="317.45" cy="222.55" r="3.65" stroke-width="0.9"/><circle cx="320.55" cy="222.73" r="3.65" stroke-width="0.9"/></g><path d="M325.8 213.3V229.3" stroke="#111" stroke-width="1.0"/><circle cx="325.8" cy="221.3" r="3.65" fill="#fff" stroke="#178217" stroke-width="1.4"/><path d="M175.4 224.64 L175.78 224.62 L176.15 224.59 L176.53 224.57 L176.91 224.55 L177.28 224.53 L177.66 224.51 L178.04 224.49 L178.42 224.47 L178.79 224.45 L179.17 224.43 L179.55 224.41 L179.92 224.39 L180.3 224.37 L180.68 224.35 L181.05 224.33 L181.43 224.3 L181.81 224.28 L182.18 224.26 L182.56 224.24 L182.94 224.22 L183.32 224.2 L183.69 224.18 L184.07 224.16 L184.45 224.14 L184.82 224.12 L185.2 224.1 L185.58 224.08 L185.95 224.06 L186.33 224.03 L186.71 224.01 L187.09 223.99 L187.46 223.97 L187.84 223.95 L188.22 223.93 L188.59 223.91 L188.97 223.89 L189.35 223.87 L189.72 223.85 L190.1 223.83 L190.48 223.81 L190.85 223.79 L191.23 223.77 L191.61 223.74 L191.99 223.72 L192.36 223.7 L192.74 223.68 L193.12 223.66 L193.49 223.64 L193.87 223.62 L194.25 223.6 L194.62 223.58 L195 223.56 L195.38 223.54 L195.75 223.52 L196.13 223.5 L196.51 223.48 L196.89 223.45 L197.26 223.43 L197.64 223.41 L198.02 223.39 L198.39 223.37 L198.77 223.35 L199.15 223.33 L199.52 223.31 L199.9 223.29 L200.28 223.27 L200.66 223.25 L201.03 223.23 L201.41 223.21 L201.79 223.18 L202.16 223.16 L202.54 223.14 L202.92 223.12 L203.29 223.1 L203.67 223.08 L204.05 223.06 L204.42 223.04 L204.8 223.02 L205.18 223 L205.56 222.98 L205.93 222.96 L206.31 222.94 L206.69 222.92 L207.06 222.89 L207.44 222.87 L207.82 222.85 L208.19 222.83 L208.57 222.81 L208.95 222.79 L209.32 222.77 L209.7 222.75 L210.08 222.73 L210.46 222.71 L210.83 222.69 L211.21 222.67 L211.59 222.65 L211.96 222.63 L212.34 222.61 L212.72 222.59 L213.09 222.57 L213.47 222.55 L213.85 222.53 L214.23 222.51 L214.6 222.49 L214.98 222.47 L215.36 222.45 L215.73 222.43 L216.11 222.41 L216.49 222.4 L216.86 222.38 L217.24 222.36 L217.62 222.34 L217.99 222.33 L218.37 222.31 L218.75 222.3 L219.13 222.29 L219.5 222.27 L219.88 222.26 L220.26 222.25 L220.63 222.25 L221.01 222.24 L221.39 222.24 L221.76 222.23 L222.14 222.24 L222.52 222.24 L222.89 222.25 L223.27 222.26 L223.65 222.28 L224.03 222.3 L224.4 222.32 L224.78 222.36 L225.16 222.4 L225.53 222.44 L225.91 222.5 L226.29 222.56 L226.66 222.64 L227.04 222.72 L227.42 222.82 L227.79 222.94 L228.17 223.07 L228.55 223.22 L228.93 223.38 L229.3 223.57 L229.68 223.78 L230.06 224.01 L230.43 224.27 L230.81 224.57 L231.19 224.89 L231.56 225.25 L231.94 225.64 L232.32 226.08 L232.7 226.56 L233.07 227.09 L233.45 227.67 L233.83 228.31 L234.2 229 L234.58 229.76 L234.96 230.58 L235.33 231.48 L235.71 232.45 L236.09 233.49 L236.46 234.62 L236.84 235.84 L237.22 237.15 L237.6 238.55 L237.97 240.06 L238.35 241.66 L238.73 243.37 L239.1 245.19 L239.48 247.12 L239.86 249.17 L240.23 251.32 L240.61 253.59 L240.99 255.98 L241.36 258.48 L241.74 261.1 L242.12 263.82 L242.5 266.65 L242.87 269.58 L243.25 272.6 L243.63 275.72 L244 278.91 L244.38 282.16 L244.76 285.47 L245.13 288.82 L245.51 292.2 L245.89 295.58 L246.27 298.95 L246.64 302.28 L247.02 305.55 L247.4 308.74 L247.77 311.81 L248.15 314.73 L248.53 317.46 L248.9 319.97 L249.28 322.21 L249.66 324.12 L250.03 325.63 L250.41 326.61 L250.6 326.8 L250.79 326.61 L251.17 325.63 L251.54 324.12 L251.92 322.21 L252.3 319.97 L252.67 317.46 L253.05 314.73 L253.43 311.81 L253.8 308.74 L254.18 305.55 L254.56 302.28 L254.93 298.95 L255.31 295.58 L255.69 292.2 L256.07 288.82 L256.44 285.47 L256.82 282.16 L257.2 278.91 L257.57 275.72 L257.95 272.6 L258.33 269.58 L258.7 266.65 L259.08 263.82 L259.46 261.1 L259.84 258.48 L260.21 255.98 L260.59 253.59 L260.97 251.32 L261.34 249.17 L261.72 247.12 L262.1 245.19 L262.47 243.37 L262.85 241.66 L263.23 240.06 L263.6 238.55 L263.98 237.15 L264.36 235.84 L264.74 234.62 L265.11 233.49 L265.49 232.45 L265.87 231.48 L266.24 230.58 L266.62 229.76 L267 229 L267.37 228.31 L267.75 227.67 L268.13 227.09 L268.5 226.56 L268.88 226.08 L269.26 225.64 L269.64 225.25 L270.01 224.89 L270.39 224.57 L270.77 224.27 L271.14 224.01 L271.52 223.78 L271.9 223.57 L272.27 223.38 L272.65 223.22 L273.03 223.07 L273.41 222.94 L273.78 222.82 L274.16 222.72 L274.54 222.64 L274.91 222.56 L275.29 222.5 L275.67 222.44 L276.04 222.4 L276.42 222.36 L276.8 222.32 L277.17 222.3 L277.55 222.28 L277.93 222.26 L278.31 222.25 L278.68 222.24 L279.06 222.24 L279.44 222.23 L279.81 222.24 L280.19 222.24 L280.57 222.25 L280.94 222.25 L281.32 222.26 L281.7 222.27 L282.07 222.29 L282.45 222.3 L282.83 222.31 L283.21 222.33 L283.58 222.34 L283.96 222.36 L284.34 222.38 L284.71 222.4 L285.09 222.41 L285.47 222.43 L285.84 222.45 L286.22 222.47 L286.6 222.49 L286.97 222.51 L287.35 222.53 L287.73 222.55 L288.11 222.57 L288.48 222.59 L288.86 222.61 L289.24 222.63 L289.61 222.65 L289.99 222.67 L290.37 222.69 L290.74 222.71 L291.12 222.73 L291.5 222.75 L291.88 222.77 L292.25 222.79 L292.63 222.81 L293.01 222.83 L293.38 222.85 L293.76 222.87 L294.14 222.89 L294.51 222.92 L294.89 222.94 L295.27 222.96 L295.64 222.98 L296.02 223 L296.4 223.02 L296.78 223.04 L297.15 223.06 L297.53 223.08 L297.91 223.1 L298.28 223.12 L298.66 223.14 L299.04 223.16 L299.41 223.18 L299.79 223.21 L300.17 223.23 L300.54 223.25 L300.92 223.27 L301.3 223.29 L301.68 223.31 L302.05 223.33 L302.43 223.35 L302.81 223.37 L303.18 223.39 L303.56 223.41 L303.94 223.43 L304.31 223.45 L304.69 223.48 L305.07 223.5 L305.45 223.52 L305.82 223.54 L306.2 223.56 L306.58 223.58 L306.95 223.6 L307.33 223.62 L307.71 223.64 L308.08 223.66 L308.46 223.68 L308.84 223.7 L309.21 223.72 L309.59 223.74 L309.97 223.77 L310.35 223.79 L310.72 223.81 L311.1 223.83 L311.48 223.85 L311.85 223.87 L312.23 223.89 L312.61 223.91 L312.98 223.93 L313.36 223.95 L313.74 223.97 L314.11 223.99 L314.49 224.01 L314.87 224.03 L315.25 224.06 L315.62 224.08 L316 224.1 L316.38 224.12 L316.75 224.14 L317.13 224.16 L317.51 224.18 L317.88 224.2 L318.26 224.22 L318.64 224.24 L319.02 224.26 L319.39 224.28 L319.77 224.3 L320.15 224.33 L320.52 224.35 L320.9 224.37 L321.28 224.39 L321.65 224.41 L322.03 224.43 L322.41 224.45 L322.78 224.47 L323.16 224.49 L323.54 224.51 L323.92 224.53 L324.29 224.55 L324.67 224.57 L325.05 224.59 L325.42 224.62 L325.8 224.64" stroke="#e3161b" stroke-width="1.6" fill="none" stroke-linejoin="round"/><rect x="155.8" y="186.1" width="186.6" height="150.2" fill="none" stroke="#111" stroke-width="2"/><path d="M160.2 336.3v3.2M205.75 336.3v3.2M251.3 336.3v3.2M296.85 336.3v3.2M342.4 336.3v3.2M182.98 336.3v2.2M228.53 336.3v2.2M274.08 336.3v2.2M319.62 336.3v2.2M155.8 326.1h-3.2M155.8 274.55h-3.2M155.8 223h-3.2M155.8 300.32h-2.2M155.8 248.78h-2.2M155.8 197.22h-2.2" stroke="#111" stroke-width="1.3" fill="none"/><g font-family="Liberation Sans" font-weight="bold" font-size="9.2" fill="#111" stroke="#111" stroke-width="0.3"><text x="160.2" y="348.7" text-anchor="middle">-10</text><text x="205.75" y="348.7" text-anchor="middle">-5</text><text x="251.3" y="348.7" text-anchor="middle">0</text><text x="296.85" y="348.7" text-anchor="middle">5</text><text x="342.4" y="348.7" text-anchor="middle">10</text><text x="150.4" y="329.1" text-anchor="end">0.50</text><text x="150.4" y="277.55" text-anchor="end">0.75</text><text x="150.4" y="226" text-anchor="end">1.00</text></g><text transform="translate(129.1,261.2) rotate(-90)" text-anchor="middle" font-family="Liberation Serif" font-weight="bold" font-size="12.6" fill="#111" stroke="#111" stroke-width="0.45">Normalised Transmittance</text><text x="239.8" y="359.9" font-family="Liberation Serif" font-weight="bold" font-size="12.5" fill="#111" stroke="#111" stroke-width="0.45">Z/Z<tspan font-size="14.5" dy="2.4" font-weight="normal" stroke-width="0.5">0</tspan></text><text transform="translate(164,201.8) scale(1.14,1)" font-family="Liberation Serif" font-weight="bold" font-size="10.6" fill="#111" stroke="#111" stroke-width="0.45"><tspan font-size="9.6" dy="-0.6">(</tspan><tspan dy="0.6">d</tspan><tspan font-size="9.6" dy="-0.6">)</tspan></text><text x="335.8" y="203.9" text-anchor="end" font-family="Liberation Serif" font-weight="bold" font-size="11.1" fill="#111" stroke="#111" stroke-width="0.45">450 mM</text></g>
<g><path d="M406.5 214.3V217.87M406.5 226.57V230.15M405.45 214.3h2.1M405.45 230.15h2.1M409.8 212.91V217.03M409.8 225.73V229.85M408.75 212.91h2.1M408.75 229.85h2.1M412.5 212.52V216.36M412.5 225.06V228.89M411.45 212.52h2.1M411.45 228.89h2.1M415.3 211.79V215.62M415.3 224.32V228.16M414.25 211.79h2.1M414.25 228.16h2.1M418.6 214.72V219M418.6 227.7V231.97M417.55 214.72h2.1M417.55 231.97h2.1M421.3 215.23V218.61M421.3 227.31V230.69M420.25 215.23h2.1M420.25 230.69h2.1M424.6 213.43V217.51M424.6 226.21V230.29M423.55 213.43h2.1M423.55 230.29h2.1M427.9 210.79V214.8M427.9 223.5V227.51M426.85 210.79h2.1M426.85 227.51h2.1M430.7 212.25V215.64M430.7 224.34V227.73M429.65 212.25h2.1M429.65 227.73h2.1M434 212.73V216.17M434 224.87V228.31M432.95 212.73h2.1M432.95 228.31h2.1M437.3 213.33V217.57M437.3 226.27V230.5M436.25 213.33h2.1M436.25 230.5h2.1M439.9 213.19V216.82M439.9 225.52V229.15M438.85 213.19h2.1M438.85 229.15h2.1M442.7 213.05V216.4M442.7 225.1V228.45M441.65 213.05h2.1M441.65 228.45h2.1M446 214.01V217.98M446 226.68V230.65M444.95 214.01h2.1M444.95 230.65h2.1M449.3 214.57V218.2M449.3 226.9V230.53M448.25 214.57h2.1M448.25 230.53h2.1M452 214.76V218.82M452 227.52V231.59M450.95 214.76h2.1M450.95 231.59h2.1M455.3 215.62V219.39M455.3 228.09V231.86M454.25 215.62h2.1M454.25 231.86h2.1M458.1 216.01V220.19M458.1 228.89V233.08M457.05 216.01h2.1M457.05 233.08h2.1M461.4 218.07V221.53M461.4 230.23V233.68M460.35 218.07h2.1M460.35 233.68h2.1M464.1 216.18V220.18M464.1 228.88V232.89M463.05 216.18h2.1M463.05 232.89h2.1M466.9 217.68V220.16M466.9 228.86V231.35M465.85 217.68h2.1M465.85 231.35h2.1M467.8 222.3V224.45M467.8 233.15V235.3M466.75 222.3h2.1M466.75 235.3h2.1M468.6 233.4V235.05M468.6 243.75V245.4M467.55 233.4h2.1M467.55 245.4h2.1M470.1 243.2V244.85M470.1 253.55V255.2M469.05 243.2h2.1M469.05 255.2h2.1M471.6 253V254.65M471.6 263.35V265M470.55 253h2.1M470.55 265h2.1M473.1 265.1V266.75M473.1 275.45V277.1M472.05 265.1h2.1M472.05 277.1h2.1M474.5 280.5V282.15M474.5 290.85V292.5M473.45 280.5h2.1M473.45 292.5h2.1M476.1 294.5V296.15M476.1 304.85V306.5M475.05 294.5h2.1M475.05 306.5h2.1M477.8 306V307.65M477.8 316.35V318M476.75 306h2.1M476.75 318h2.1M478.6 315.1V316.75M478.6 325.45V327.1M477.55 315.1h2.1M477.55 327.1h2.1M481.1 318.4V320.05M481.1 328.75V330.4M480.05 318.4h2.1M480.05 330.4h2.1M482.7 315.9V317.55M482.7 326.25V327.9M481.65 315.9h2.1M481.65 327.9h2.1M484.4 308.5V310.15M484.4 318.85V320.5M483.35 308.5h2.1M483.35 320.5h2.1M486 296.1V297.75M486 306.45V308.1M484.95 296.1h2.1M484.95 308.1h2.1M487.7 280.5V282.15M487.7 290.85V292.5M486.65 280.5h2.1M486.65 292.5h2.1M489 262.8V264.45M489 273.15V274.8M487.95 262.8h2.1M487.95 274.8h2.1M490.5 250.7V252.35M490.5 261.05V262.7M489.45 250.7h2.1M489.45 262.7h2.1M492 237.9V239.55M492 248.25V249.9M490.95 237.9h2.1M490.95 249.9h2.1M493.5 228.1V229.75M493.5 238.45V240.1M492.45 228.1h2.1M492.45 240.1h2.1M491.7 228.6V230.25M491.7 238.95V240.6M490.65 228.6h2.1M490.65 240.6h2.1M492.9 224.9V226.55M492.9 235.25V236.9M491.85 224.9h2.1M491.85 236.9h2.1M494.3 222.3V224.45M494.3 233.15V235.3M493.25 222.3h2.1M493.25 235.3h2.1M494.8 221.3V223.45M494.8 232.15V234.3M493.75 221.3h2.1M493.75 234.3h2.1M496.7 218.44V220.88M496.7 229.58V232.01M495.65 218.44h2.1M495.65 232.01h2.1M497.3 216.83V220.23M497.3 228.93V232.33M496.25 216.83h2.1M496.25 232.33h2.1M500.4 216.14V220.27M500.4 228.97V233.11M499.35 216.14h2.1M499.35 233.11h2.1M503.5 216.55V219.98M503.5 228.68V232.1M502.45 216.55h2.1M502.45 232.1h2.1M506.5 215.88V219.06M506.5 227.76V230.94M505.45 215.88h2.1M505.45 230.94h2.1M509.6 214.33V217.6M509.6 226.3V229.58M508.55 214.33h2.1M508.55 229.58h2.1M512.7 215.69V218.32M512.7 227.02V229.64M511.65 215.69h2.1M511.65 229.64h2.1M515.8 213.06V216.74M515.8 225.44V229.11M514.75 213.06h2.1M514.75 229.11h2.1M518.9 211.8V215.99M518.9 224.69V228.88M517.85 211.8h2.1M517.85 228.88h2.1M522 212.3V216.77M522 225.47V229.94M520.95 212.3h2.1M520.95 229.94h2.1M525.1 213.04V216.82M525.1 225.52V229.3M524.05 213.04h2.1M524.05 229.3h2.1M528.2 213.88V218.15M528.2 226.85V231.12M527.15 213.88h2.1M527.15 231.12h2.1M531.3 213.55V218.17M531.3 226.87V231.5M530.25 213.55h2.1M530.25 231.5h2.1M532.9 215.21V219.11M532.9 227.81V231.7M531.85 215.21h2.1M531.85 231.7h2.1M536 213.07V217.6M536 226.3V230.84M534.95 213.07h2.1M534.95 230.84h2.1M539.1 214.06V217.81M539.1 226.51V230.26M538.05 214.06h2.1M538.05 230.26h2.1M542.2 213.36V216.85M542.2 225.55V229.04M541.15 213.36h2.1M541.15 229.04h2.1M545.3 214.04V216.88M545.3 225.58V228.42M544.25 214.04h2.1M544.25 228.42h2.1M547.8 211.87V216.13M547.8 224.83V229.1M546.75 211.87h2.1M546.75 229.1h2.1M550.9 214.02V217.51M550.9 226.21V229.71M549.85 214.02h2.1M549.85 229.71h2.1M553.3 212.93V216.78M553.3 225.48V229.33M552.25 212.93h2.1M552.25 229.33h2.1M556.4 211.9V215.85M556.4 224.55V228.5M555.35 211.9h2.1M555.35 228.5h2.1" stroke="#111" stroke-width="1.0" fill="none"/><g fill="none" stroke="#178217" stroke-width="1.4"><circle cx="404.7" cy="222.5" r="3.65"/><circle cx="406.5" cy="222.22" r="3.65"/><circle cx="409.8" cy="221.38" r="3.65"/><circle cx="412.5" cy="220.71" r="3.65"/><circle cx="415.3" cy="219.97" r="3.65"/><circle cx="418.6" cy="223.35" r="3.65"/><circle cx="421.3" cy="222.96" r="3.65"/><circle cx="424.6" cy="221.86" r="3.65"/><circle cx="427.9" cy="219.15" r="3.65"/><circle cx="430.7" cy="219.99" r="3.65"/><circle cx="434" cy="220.52" r="3.65"/><circle cx="437.3" cy="221.92" r="3.65"/><circle cx="439.9" cy="221.17" r="3.65"/><circle cx="442.7" cy="220.75" r="3.65"/><circle cx="446" cy="222.33" r="3.65"/><circle cx="449.3" cy="222.55" r="3.65"/><circle cx="452" cy="223.17" r="3.65"/><circle cx="455.3" cy="223.74" r="3.65"/><circle cx="458.1" cy="224.54" r="3.65"/><circle cx="461.4" cy="225.88" r="3.65"/><circle cx="464.1" cy="224.53" r="3.65"/><circle cx="466.9" cy="224.51" r="3.65"/><circle cx="467.8" cy="228.8" r="3.65"/><circle cx="468.6" cy="239.4" r="3.65"/><circle cx="470.1" cy="249.2" r="3.65"/><circle cx="471.6" cy="259" r="3.65"/><circle cx="473.1" cy="271.1" r="3.65"/><circle cx="474.5" cy="286.5" r="3.65"/><circle cx="476.1" cy="300.5" r="3.65"/><circle cx="477.8" cy="312" r="3.65"/><circle cx="478.6" cy="321.1" r="3.65"/><circle cx="481.1" cy="324.4" r="3.65"/><circle cx="482.7" cy="321.9" r="3.65"/><circle cx="484.4" cy="314.5" r="3.65"/><circle cx="486" cy="302.1" r="3.65"/><circle cx="487.7" cy="286.5" r="3.65"/><circle cx="489" cy="268.8" r="3.65"/><circle cx="490.5" cy="256.7" r="3.65"/><circle cx="492" cy="243.9" r="3.65"/><circle cx="493.5" cy="234.1" r="3.65"/><circle cx="491.7" cy="234.6" r="3.65"/><circle cx="492.9" cy="230.9" r="3.65"/><circle cx="494.3" cy="228.8" r="3.65"/><circle cx="494.8" cy="227.8" r="3.65"/><circle cx="496.7" cy="225.23" r="3.65"/><circle cx="497.3" cy="224.58" r="3.65"/><circle cx="500.4" cy="224.62" r="3.65"/><circle cx="503.5" cy="224.33" r="3.65"/><circle cx="506.5" cy="223.41" r="3.65"/><circle cx="509.6" cy="221.95" r="3.65"/><circle cx="512.7" cy="222.67" r="3.65"/><circle cx="515.8" cy="221.09" r="3.65"/><circle cx="518.9" cy="220.34" r="3.65"/><circle cx="522" cy="221.12" r="3.65"/><circle cx="525.1" cy="221.17" r="3.65"/><circle cx="528.2" cy="222.5" r="3.65"/><circle cx="531.3" cy="222.52" r="3.65"/><circle cx="532.9" cy="223.46" r="3.65"/><circle cx="536" cy="221.95" r="3.65"/><circle cx="539.1" cy="222.16" r="3.65"/><circle cx="542.2" cy="221.2" r="3.65"/><circle cx="545.3" cy="221.23" r="3.65"/><circle cx="547.8" cy="220.48" r="3.65"/><circle cx="550.9" cy="221.86" r="3.65"/><circle cx="553.3" cy="221.13" r="3.65"/><circle cx="556.4" cy="220.2" r="3.65"/><circle cx="408.15" cy="221.8" r="3.65" stroke-width="0.9"/><circle cx="411.15" cy="221.05" r="3.65" stroke-width="0.9"/><circle cx="413.9" cy="220.34" r="3.65" stroke-width="0.9"/><circle cx="416.95" cy="221.66" r="3.65" stroke-width="0.9"/><circle cx="419.95" cy="223.15" r="3.65" stroke-width="0.9"/><circle cx="422.95" cy="222.41" r="3.65" stroke-width="0.9"/><circle cx="426.25" cy="220.5" r="3.65" stroke-width="0.9"/><circle cx="429.3" cy="219.57" r="3.65" stroke-width="0.9"/><circle cx="432.35" cy="220.25" r="3.65" stroke-width="0.9"/><circle cx="435.65" cy="221.22" r="3.65" stroke-width="0.9"/><circle cx="438.6" cy="221.54" r="3.65" stroke-width="0.9"/><circle cx="441.3" cy="220.96" r="3.65" stroke-width="0.9"/><circle cx="444.35" cy="221.54" r="3.65" stroke-width="0.9"/><circle cx="447.65" cy="222.44" r="3.65" stroke-width="0.9"/><circle cx="450.65" cy="222.86" r="3.65" stroke-width="0.9"/><circle cx="453.65" cy="223.46" r="3.65" stroke-width="0.9"/><circle cx="456.7" cy="224.14" r="3.65" stroke-width="0.9"/><circle cx="459.75" cy="225.21" r="3.65" stroke-width="0.9"/><circle cx="462.75" cy="225.2" r="3.65" stroke-width="0.9"/><circle cx="498.85" cy="224.6" r="3.65" stroke-width="0.9"/><circle cx="501.95" cy="224.47" r="3.65" stroke-width="0.9"/><circle cx="505" cy="223.87" r="3.65" stroke-width="0.9"/><circle cx="508.05" cy="222.68" r="3.65" stroke-width="0.9"/><circle cx="517.35" cy="220.71" r="3.65" stroke-width="0.9"/><circle cx="520.45" cy="220.73" r="3.65" stroke-width="0.9"/><circle cx="523.55" cy="221.15" r="3.65" stroke-width="0.9"/><circle cx="526.65" cy="221.84" r="3.65" stroke-width="0.9"/><circle cx="529.75" cy="222.51" r="3.65" stroke-width="0.9"/><circle cx="532.1" cy="222.99" r="3.65" stroke-width="0.9"/><circle cx="534.45" cy="222.7" r="3.65" stroke-width="0.9"/><circle cx="537.55" cy="222.06" r="3.65" stroke-width="0.9"/><circle cx="540.65" cy="221.68" r="3.65" stroke-width="0.9"/><circle cx="543.75" cy="221.22" r="3.65" stroke-width="0.9"/><circle cx="546.55" cy="220.86" r="3.65" stroke-width="0.9"/><circle cx="549.35" cy="221.17" r="3.65" stroke-width="0.9"/><circle cx="552.1" cy="221.5" r="3.65" stroke-width="0.9"/></g><path d="M556.4 211.9V228.5" stroke="#111" stroke-width="1.0"/><circle cx="556.4" cy="220.2" r="3.65" fill="#fff" stroke="#178217" stroke-width="1.4"/><path d="M404.3 223.11 L404.68 223.09 L405.06 223.06 L405.44 223.04 L405.82 223.02 L406.2 222.99 L406.58 222.97 L406.96 222.95 L407.34 222.93 L407.72 222.9 L408.1 222.88 L408.48 222.86 L408.86 222.83 L409.24 222.81 L409.62 222.79 L410 222.77 L410.38 222.74 L410.75 222.72 L411.13 222.7 L411.51 222.68 L411.89 222.65 L412.27 222.63 L412.65 222.61 L413.03 222.58 L413.41 222.56 L413.79 222.54 L414.17 222.52 L414.55 222.49 L414.93 222.47 L415.31 222.45 L415.69 222.42 L416.07 222.4 L416.45 222.38 L416.83 222.36 L417.21 222.33 L417.59 222.31 L417.97 222.29 L418.35 222.27 L418.73 222.24 L419.11 222.22 L419.49 222.2 L419.87 222.17 L420.25 222.15 L420.63 222.13 L421.01 222.11 L421.39 222.08 L421.77 222.06 L422.15 222.04 L422.53 222.01 L422.91 221.99 L423.28 221.97 L423.66 221.95 L424.04 221.92 L424.42 221.9 L424.8 221.88 L425.18 221.85 L425.56 221.83 L425.94 221.81 L426.32 221.79 L426.7 221.76 L427.08 221.74 L427.46 221.72 L427.84 221.7 L428.22 221.67 L428.6 221.65 L428.98 221.63 L429.36 221.6 L429.74 221.58 L430.12 221.56 L430.5 221.54 L430.88 221.51 L431.26 221.49 L431.64 221.47 L432.02 221.44 L432.4 221.42 L432.78 221.4 L433.16 221.38 L433.54 221.35 L433.92 221.33 L434.3 221.31 L434.68 221.29 L435.06 221.26 L435.44 221.24 L435.82 221.22 L436.19 221.19 L436.57 221.17 L436.95 221.15 L437.33 221.13 L437.71 221.1 L438.09 221.08 L438.47 221.06 L438.85 221.04 L439.23 221.01 L439.61 220.99 L439.99 220.97 L440.37 220.94 L440.75 220.92 L441.13 220.9 L441.51 220.88 L441.89 220.85 L442.27 220.83 L442.65 220.81 L443.03 220.79 L443.41 220.77 L443.79 220.74 L444.17 220.72 L444.55 220.7 L444.93 220.68 L445.31 220.66 L445.69 220.64 L446.07 220.62 L446.45 220.59 L446.83 220.57 L447.21 220.55 L447.59 220.54 L447.97 220.52 L448.35 220.5 L448.72 220.48 L449.1 220.46 L449.48 220.45 L449.86 220.43 L450.24 220.42 L450.62 220.41 L451 220.4 L451.38 220.39 L451.76 220.38 L452.14 220.38 L452.52 220.38 L452.9 220.38 L453.28 220.38 L453.66 220.39 L454.04 220.41 L454.42 220.42 L454.8 220.45 L455.18 220.47 L455.56 220.51 L455.94 220.55 L456.32 220.6 L456.7 220.67 L457.08 220.74 L457.46 220.82 L457.84 220.91 L458.22 221.02 L458.6 221.15 L458.98 221.29 L459.36 221.45 L459.74 221.63 L460.12 221.84 L460.5 222.07 L460.88 222.32 L461.25 222.61 L461.63 222.93 L462.01 223.28 L462.39 223.67 L462.77 224.1 L463.15 224.58 L463.53 225.1 L463.91 225.68 L464.29 226.31 L464.67 227 L465.05 227.75 L465.43 228.57 L465.81 229.46 L466.19 230.43 L466.57 231.47 L466.95 232.6 L467.33 233.82 L467.71 235.13 L468.09 236.53 L468.47 238.04 L468.85 239.64 L469.23 241.36 L469.61 243.18 L469.99 245.12 L470.37 247.17 L470.75 249.34 L471.13 251.62 L471.51 254.02 L471.89 256.53 L472.27 259.16 L472.65 261.9 L473.03 264.75 L473.41 267.69 L473.78 270.73 L474.16 273.86 L474.54 277.07 L474.92 280.34 L475.3 283.67 L475.68 287.03 L476.06 290.42 L476.44 293.81 L476.82 297.18 L477.2 300.52 L477.58 303.79 L477.96 306.96 L478.34 310.02 L478.72 312.92 L479.1 315.62 L479.48 318.09 L479.86 320.27 L480.24 322.1 L480.62 323.51 L481 324.33 L481.1 324.4 L481.38 324.03 L481.76 322.91 L482.14 321.29 L482.52 319.28 L482.9 316.96 L483.28 314.38 L483.66 311.58 L484.04 308.6 L484.42 305.49 L484.8 302.26 L485.18 298.96 L485.56 295.6 L485.94 292.22 L486.32 288.83 L486.69 285.45 L487.07 282.1 L487.45 278.8 L487.83 275.55 L488.21 272.38 L488.59 269.3 L488.97 266.3 L489.35 263.4 L489.73 260.6 L490.11 257.92 L490.49 255.34 L490.87 252.88 L491.25 250.54 L491.63 248.31 L492.01 246.19 L492.39 244.2 L492.77 242.31 L493.15 240.54 L493.53 238.88 L493.91 237.32 L494.29 235.86 L494.67 234.5 L495.05 233.23 L495.43 232.06 L495.81 230.97 L496.19 229.96 L496.57 229.03 L496.95 228.18 L497.33 227.39 L497.71 226.67 L498.09 226.01 L498.47 225.4 L498.85 224.85 L499.22 224.35 L499.6 223.89 L499.98 223.48 L500.36 223.11 L500.74 222.77 L501.12 222.47 L501.5 222.2 L501.88 221.96 L502.26 221.74 L502.64 221.55 L503.02 221.37 L503.4 221.22 L503.78 221.09 L504.16 220.97 L504.54 220.87 L504.92 220.78 L505.3 220.7 L505.68 220.64 L506.06 220.58 L506.44 220.53 L506.82 220.49 L507.2 220.46 L507.58 220.43 L507.96 220.41 L508.34 220.4 L508.72 220.39 L509.1 220.38 L509.48 220.38 L509.86 220.38 L510.24 220.38 L510.62 220.39 L511 220.39 L511.38 220.4 L511.75 220.41 L512.13 220.43 L512.51 220.44 L512.89 220.46 L513.27 220.47 L513.65 220.49 L514.03 220.51 L514.41 220.53 L514.79 220.54 L515.17 220.56 L515.55 220.58 L515.93 220.6 L516.31 220.62 L516.69 220.65 L517.07 220.67 L517.45 220.69 L517.83 220.71 L518.21 220.73 L518.59 220.75 L518.97 220.78 L519.35 220.8 L519.73 220.82 L520.11 220.84 L520.49 220.87 L520.87 220.89 L521.25 220.91 L521.63 220.93 L522.01 220.96 L522.39 220.98 L522.77 221 L523.15 221.02 L523.53 221.05 L523.91 221.07 L524.28 221.09 L524.66 221.11 L525.04 221.14 L525.42 221.16 L525.8 221.18 L526.18 221.21 L526.56 221.23 L526.94 221.25 L527.32 221.27 L527.7 221.3 L528.08 221.32 L528.46 221.34 L528.84 221.36 L529.22 221.39 L529.6 221.41 L529.98 221.43 L530.36 221.46 L530.74 221.48 L531.12 221.5 L531.5 221.52 L531.88 221.55 L532.26 221.57 L532.64 221.59 L533.02 221.62 L533.4 221.64 L533.78 221.66 L534.16 221.68 L534.54 221.71 L534.92 221.73 L535.3 221.75 L535.68 221.77 L536.06 221.8 L536.44 221.82 L536.82 221.84 L537.19 221.87 L537.57 221.89 L537.95 221.91 L538.33 221.93 L538.71 221.96 L539.09 221.98 L539.47 222 L539.85 222.03 L540.23 222.05 L540.61 222.07 L540.99 222.09 L541.37 222.12 L541.75 222.14 L542.13 222.16 L542.51 222.18 L542.89 222.21 L543.27 222.23 L543.65 222.25 L544.03 222.28 L544.41 222.3 L544.79 222.32 L545.17 222.34 L545.55 222.37 L545.93 222.39 L546.31 222.41 L546.69 222.44 L547.07 222.46 L547.45 222.48 L547.83 222.5 L548.21 222.53 L548.59 222.55 L548.97 222.57 L549.35 222.59 L549.72 222.62 L550.1 222.64 L550.48 222.66 L550.86 222.69 L551.24 222.71 L551.62 222.73 L552 222.75 L552.38 222.78 L552.76 222.8 L553.14 222.82 L553.52 222.85 L553.9 222.87 L554.28 222.89 L554.66 222.91 L555.04 222.94 L555.42 222.96 L555.8 222.98" stroke="#e3161b" stroke-width="1.6" fill="none" stroke-linejoin="round"/><rect x="385.1" y="185.9" width="186.6" height="150.2" fill="none" stroke="#111" stroke-width="2"/><path d="M389.5 336.1v3.2M435.05 336.1v3.2M480.6 336.1v3.2M526.15 336.1v3.2M571.7 336.1v3.2M412.27 336.1v2.2M457.82 336.1v2.2M503.38 336.1v2.2M548.92 336.1v2.2M385.1 325.9h-3.2M385.1 274.35h-3.2M385.1 222.8h-3.2M385.1 300.12h-2.2M385.1 248.58h-2.2M385.1 197.03h-2.2" stroke="#111" stroke-width="1.3" fill="none"/><g font-family="Liberation Sans" font-weight="bold" font-size="9.2" fill="#111" stroke="#111" stroke-width="0.3"><text x="389.5" y="348.5" text-anchor="middle">-10</text><text x="435.05" y="348.5" text-anchor="middle">-5</text><text x="480.6" y="348.5" text-anchor="middle">0</text><text x="526.15" y="348.5" text-anchor="middle">5</text><text x="571.7" y="348.5" text-anchor="middle">10</text><text x="379.7" y="328.9" text-anchor="end">0.50</text><text x="379.7" y="277.35" text-anchor="end">0.75</text><text x="379.7" y="225.8" text-anchor="end">1.00</text></g><text transform="translate(358.4,261) rotate(-90)" text-anchor="middle" font-family="Liberation Serif" font-weight="bold" font-size="12.6" fill="#111" stroke="#111" stroke-width="0.45">Normalised Transmittance</text><text x="469.1" y="359.9" font-family="Liberation Serif" font-weight="bold" font-size="12.5" fill="#111" stroke="#111" stroke-width="0.45">Z/Z<tspan font-size="14.5" dy="2.4" font-weight="normal" stroke-width="0.5">0</tspan></text><text transform="translate(393.3,201.6) scale(1.14,1)" font-family="Liberation Serif" font-weight="bold" font-size="10.6" fill="#111" stroke="#111" stroke-width="0.45"><tspan font-size="9.6" dy="-0.6">(</tspan><tspan dy="0.6">e</tspan><tspan font-size="9.6" dy="-0.6">)</tspan></text><text x="565.1" y="203.7" text-anchor="end" font-family="Liberation Serif" font-weight="bold" font-size="11.1" fill="#111" stroke="#111" stroke-width="0.45">550 mM</text></g>
</svg></body></html>
